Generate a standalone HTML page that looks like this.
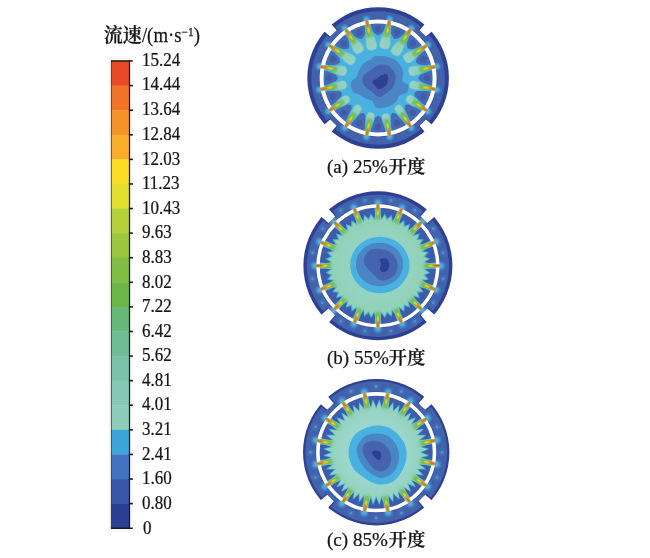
<!DOCTYPE html>
<html lang="zh"><head><meta charset="utf-8"><title>流速</title>
<style>
html,body{margin:0;padding:0;background:#fff;}
body{width:650px;height:558px;overflow:hidden;position:relative;font-family:"Liberation Serif","Noto Serif CJK SC",serif;color:#1a1a1a;}
svg{position:absolute;left:0;top:0;}
</style></head><body>
<svg width="650" height="558" viewBox="0 0 650 558">
<defs>
<filter id="soft" x="-5%" y="-5%" width="110%" height="110%"><feGaussianBlur stdDeviation="0.35"/></filter>
<filter id="b1" x="-20%" y="-20%" width="140%" height="140%"><feGaussianBlur stdDeviation="0.6"/></filter>
<filter id="b15" x="-30%" y="-30%" width="160%" height="160%"><feGaussianBlur stdDeviation="0.85"/></filter>
<filter id="b05" x="-30%" y="-100%" width="160%" height="300%"><feGaussianBlur stdDeviation="0.45"/></filter>
<filter id="b2" x="-30%" y="-30%" width="160%" height="160%"><feGaussianBlur stdDeviation="1.1"/></filter>
<filter id="b3" x="-40%" y="-40%" width="180%" height="180%"><feGaussianBlur stdDeviation="1.8"/></filter>
<linearGradient id="core" x1="0" y1="0" x2="1" y2="0">
<stop offset="0" stop-color="#E8492A"/><stop offset="0.6" stop-color="#EA4F27"/><stop offset="0.85" stop-color="#F28A28"/><stop offset="1" stop-color="#F5C022" stop-opacity="0.5"/>
</linearGradient>
<linearGradient id="yel" x1="0" y1="0" x2="1" y2="0">
<stop offset="0" stop-color="#F2C222"/><stop offset="0.55" stop-color="#F3DC20"/><stop offset="0.8" stop-color="#E4DC25"/><stop offset="1" stop-color="#BFD231" stop-opacity="0.3"/>
</linearGradient>
<linearGradient id="sheath" x1="0" y1="0" x2="1" y2="0">
<stop offset="0" stop-color="#62B24A"/><stop offset="0.5" stop-color="#79BC42"/><stop offset="0.8" stop-color="#74BA58"/><stop offset="1" stop-color="#7CC080" stop-opacity="0.7"/>
</linearGradient>
<linearGradient id="tailA" x1="0" y1="0" x2="1" y2="0">
<stop offset="0" stop-color="#70B84A"/><stop offset="0.2" stop-color="#78BD62"/><stop offset="0.36" stop-color="#84C694"/><stop offset="0.5" stop-color="#90CFB8"/><stop offset="1" stop-color="#96D3C6"/>
</linearGradient>
<linearGradient id="tailB" x1="0" y1="0" x2="1" y2="0">
<stop offset="0" stop-color="#70B84A"/><stop offset="0.35" stop-color="#7CC07A"/><stop offset="0.7" stop-color="#8CCDA8" stop-opacity="0.8"/><stop offset="1" stop-color="#93D2BC" stop-opacity="0"/>
</linearGradient>
<radialGradient id="tealb" gradientUnits="userSpaceOnUse" cx="0" cy="0" r="52">
<stop offset="0" stop-color="#95D4C4"/><stop offset="0.6" stop-color="#94D3C0"/><stop offset="0.85" stop-color="#92D2B8"/><stop offset="1" stop-color="#8FD0AE"/>
</radialGradient>
<radialGradient id="tealc" gradientUnits="userSpaceOnUse" cx="0" cy="0" r="52">
<stop offset="0" stop-color="#9DD7D0"/><stop offset="0.6" stop-color="#9AD6CB"/><stop offset="0.85" stop-color="#95D3C0"/><stop offset="1" stop-color="#90D0B2"/>
</radialGradient>
</defs>

<g transform="translate(0.6,0)">
<rect x="108" y="58" width="24" height="474" fill="#f8f8f6"/>
<rect x="110.6" y="61.00" width="18.4" height="24.89" fill="#E84A27"/>
<rect x="110.6" y="85.59" width="18.4" height="24.89" fill="#F07328"/>
<rect x="110.6" y="110.18" width="18.4" height="24.89" fill="#F5922A"/>
<rect x="110.6" y="134.77" width="18.4" height="24.89" fill="#F8AE2A"/>
<rect x="110.6" y="159.36" width="18.4" height="24.89" fill="#FBDD25"/>
<rect x="110.6" y="183.95" width="18.4" height="24.89" fill="#E2DF30"/>
<rect x="110.6" y="208.54" width="18.4" height="24.89" fill="#B4D03A"/>
<rect x="110.6" y="233.13" width="18.4" height="24.89" fill="#9AC73D"/>
<rect x="110.6" y="257.72" width="18.4" height="24.89" fill="#80BE44"/>
<rect x="110.6" y="282.31" width="18.4" height="24.89" fill="#6BB647"/>
<rect x="110.6" y="306.89" width="18.4" height="24.89" fill="#68B87A"/>
<rect x="110.6" y="331.48" width="18.4" height="24.89" fill="#70BD95"/>
<rect x="110.6" y="356.07" width="18.4" height="24.89" fill="#7AC3A8"/>
<rect x="110.6" y="380.66" width="18.4" height="24.89" fill="#86C9B6"/>
<rect x="110.6" y="405.25" width="18.4" height="24.89" fill="#8CCDBC"/>
<rect x="110.6" y="429.84" width="18.4" height="24.89" fill="#3CA6DC"/>
<rect x="110.6" y="454.43" width="18.4" height="24.89" fill="#4272C0"/>
<rect x="110.6" y="479.02" width="18.4" height="24.89" fill="#3A58AA"/>
<rect x="110.6" y="503.61" width="18.4" height="24.89" fill="#2D3F95"/>
<rect x="110.3" y="61.00" width="0.8" height="467.20" fill="#222" opacity="0.85"/>
<rect x="128.3" y="60.40" width="1.2" height="468.40" fill="#1a1a1a"/>
<rect x="110.3" y="60.20" width="21.9" height="1.5" fill="#1a1a1a"/>
<rect x="110.3" y="527.50" width="21.9" height="1.5" fill="#1a1a1a"/>
<rect x="128.3" y="84.79" width="4.0" height="1.6" fill="#1a1a1a"/>
<rect x="128.3" y="109.38" width="4.0" height="1.6" fill="#1a1a1a"/>
<rect x="128.3" y="133.97" width="4.0" height="1.6" fill="#1a1a1a"/>
<rect x="128.3" y="158.56" width="4.0" height="1.6" fill="#1a1a1a"/>
<rect x="128.3" y="183.15" width="4.0" height="1.6" fill="#1a1a1a"/>
<rect x="128.3" y="207.74" width="4.0" height="1.6" fill="#1a1a1a"/>
<rect x="128.3" y="232.33" width="4.0" height="1.6" fill="#1a1a1a"/>
<rect x="128.3" y="256.92" width="4.0" height="1.6" fill="#1a1a1a"/>
<rect x="128.3" y="281.51" width="4.0" height="1.6" fill="#1a1a1a"/>
<rect x="128.3" y="306.09" width="4.0" height="1.6" fill="#1a1a1a"/>
<rect x="128.3" y="330.68" width="4.0" height="1.6" fill="#1a1a1a"/>
<rect x="128.3" y="355.27" width="4.0" height="1.6" fill="#1a1a1a"/>
<rect x="128.3" y="379.86" width="4.0" height="1.6" fill="#1a1a1a"/>
<rect x="128.3" y="404.45" width="4.0" height="1.6" fill="#1a1a1a"/>
<rect x="128.3" y="429.04" width="4.0" height="1.6" fill="#1a1a1a"/>
<rect x="128.3" y="453.63" width="4.0" height="1.6" fill="#1a1a1a"/>
<rect x="128.3" y="478.22" width="4.0" height="1.6" fill="#1a1a1a"/>
<rect x="128.3" y="502.81" width="4.0" height="1.6" fill="#1a1a1a"/>
</g>
<g transform="translate(378.1,78.0)" filter="url(#soft)">
<clipPath id="clipa"><circle r="54.9"/></clipPath>
<circle r="70.8" fill="#2E3F94"/>
<circle r="66.8" fill="#4262AB"/>
<polygon points="62.74,-5.71 70.21,-6.39 70.21,6.39 62.74,5.71" fill="#2E3F94" transform="rotate(45)"/>
<polygon points="62.74,-5.71 70.21,-6.39 70.21,6.39 62.74,5.71" fill="#2E3F94" transform="rotate(135)"/>
<polygon points="62.74,-5.71 70.21,-6.39 70.21,6.39 62.74,5.71" fill="#2E3F94" transform="rotate(225)"/>
<polygon points="62.74,-5.71 70.21,-6.39 70.21,6.39 62.74,5.71" fill="#2E3F94" transform="rotate(315)"/>
<circle r="56.5" fill="none" stroke="#2E3F94" stroke-width="4.999999999999997" opacity="0.55"/>
<circle cx="59.44" cy="11.82" r="3.4" fill="#4A7EC4" opacity="0.45" filter="url(#b2)"/>
<circle cx="58.55" cy="11.65" r="2.9" fill="#4CB6E6" filter="url(#b15)"/>
<circle cx="50.39" cy="33.67" r="3.4" fill="#4A7EC4" opacity="0.45" filter="url(#b2)"/>
<circle cx="49.64" cy="33.17" r="2.9" fill="#4CB6E6" filter="url(#b15)"/>
<circle cx="33.67" cy="50.39" r="3.4" fill="#4A7EC4" opacity="0.45" filter="url(#b2)"/>
<circle cx="33.17" cy="49.64" r="2.9" fill="#4CB6E6" filter="url(#b15)"/>
<circle cx="11.82" cy="59.44" r="3.4" fill="#4A7EC4" opacity="0.45" filter="url(#b2)"/>
<circle cx="11.65" cy="58.55" r="2.9" fill="#4CB6E6" filter="url(#b15)"/>
<circle cx="-11.82" cy="59.44" r="3.4" fill="#4A7EC4" opacity="0.45" filter="url(#b2)"/>
<circle cx="-11.65" cy="58.55" r="2.9" fill="#4CB6E6" filter="url(#b15)"/>
<circle cx="-33.67" cy="50.39" r="3.4" fill="#4A7EC4" opacity="0.45" filter="url(#b2)"/>
<circle cx="-33.17" cy="49.64" r="2.9" fill="#4CB6E6" filter="url(#b15)"/>
<circle cx="-50.39" cy="33.67" r="3.4" fill="#4A7EC4" opacity="0.45" filter="url(#b2)"/>
<circle cx="-49.64" cy="33.17" r="2.9" fill="#4CB6E6" filter="url(#b15)"/>
<circle cx="-59.44" cy="11.82" r="3.4" fill="#4A7EC4" opacity="0.45" filter="url(#b2)"/>
<circle cx="-58.55" cy="11.65" r="2.9" fill="#4CB6E6" filter="url(#b15)"/>
<circle cx="-59.44" cy="-11.82" r="3.4" fill="#4A7EC4" opacity="0.45" filter="url(#b2)"/>
<circle cx="-58.55" cy="-11.65" r="2.9" fill="#4CB6E6" filter="url(#b15)"/>
<circle cx="-50.39" cy="-33.67" r="3.4" fill="#4A7EC4" opacity="0.45" filter="url(#b2)"/>
<circle cx="-49.64" cy="-33.17" r="2.9" fill="#4CB6E6" filter="url(#b15)"/>
<circle cx="-33.67" cy="-50.39" r="3.4" fill="#4A7EC4" opacity="0.45" filter="url(#b2)"/>
<circle cx="-33.17" cy="-49.64" r="2.9" fill="#4CB6E6" filter="url(#b15)"/>
<circle cx="-11.82" cy="-59.44" r="3.4" fill="#4A7EC4" opacity="0.45" filter="url(#b2)"/>
<circle cx="-11.65" cy="-58.55" r="2.9" fill="#4CB6E6" filter="url(#b15)"/>
<circle cx="11.82" cy="-59.44" r="3.4" fill="#4A7EC4" opacity="0.45" filter="url(#b2)"/>
<circle cx="11.65" cy="-58.55" r="2.9" fill="#4CB6E6" filter="url(#b15)"/>
<circle cx="33.67" cy="-50.39" r="3.4" fill="#4A7EC4" opacity="0.45" filter="url(#b2)"/>
<circle cx="33.17" cy="-49.64" r="2.9" fill="#4CB6E6" filter="url(#b15)"/>
<circle cx="50.39" cy="-33.67" r="3.4" fill="#4A7EC4" opacity="0.45" filter="url(#b2)"/>
<circle cx="49.64" cy="-33.17" r="2.9" fill="#4CB6E6" filter="url(#b15)"/>
<circle cx="59.44" cy="-11.82" r="3.4" fill="#4A7EC4" opacity="0.45" filter="url(#b2)"/>
<circle cx="58.55" cy="-11.65" r="2.9" fill="#4CB6E6" filter="url(#b15)"/>
<polygon points="63.14,-4.53 76.60,-5.49 76.60,5.49 63.14,4.53" fill="#fff" transform="rotate(45)"/>
<polygon points="63.14,-4.53 76.60,-5.49 76.60,5.49 63.14,4.53" fill="#fff" transform="rotate(135)"/>
<polygon points="63.14,-4.53 76.60,-5.49 76.60,5.49 63.14,4.53" fill="#fff" transform="rotate(225)"/>
<polygon points="63.14,-4.53 76.60,-5.49 76.60,5.49 63.14,4.53" fill="#fff" transform="rotate(315)"/>
<circle r="54.6" fill="#3C5DAA"/>
<g clip-path="url(#clipa)">
<circle r="55.1" fill="#48B1E0"/>
<polygon points="54.80,14.17 48.77,28.73 44.12,25.58 40.79,22.33 36.85,18.53 36.07,14.94 39.16,12.95 44.63,13.05 49.29,13.11" fill="#4668B2" filter="url(#b1)"/>
<circle cx="45.27" cy="18.75" r="3.2" fill="#3B55A4" opacity="0.6" filter="url(#b1)"/>
<polygon points="45.20,34.06 34.06,45.20 30.98,40.52 29.14,36.24 26.42,30.61 27.03,27.03 30.61,26.42 36.24,29.14 40.52,30.98" fill="#4668B2" filter="url(#b1)"/>
<circle cx="34.65" cy="34.65" r="3.2" fill="#3B55A4" opacity="0.6" filter="url(#b1)"/>
<polygon points="28.73,48.77 14.17,54.80 13.11,49.29 13.05,44.63 12.53,37.87 14.42,34.82 17.92,35.64 22.33,40.79 25.58,44.12" fill="#4668B2" filter="url(#b1)"/>
<circle cx="18.75" cy="45.27" r="3.2" fill="#3B55A4" opacity="0.6" filter="url(#b1)"/>
<polygon points="7.88,56.05 -7.88,56.05 -6.75,50.55 -5.02,46.23 -2.91,39.59 0.00,37.50 2.91,39.59 5.02,46.23 6.75,50.55" fill="#4668B2" filter="url(#b1)"/>
<circle cx="0.00" cy="49.00" r="3.2" fill="#3B55A4" opacity="0.6" filter="url(#b1)"/>
<polygon points="-14.17,54.80 -28.73,48.77 -25.58,44.12 -22.33,40.79 -17.92,35.64 -14.42,34.82 -12.53,37.87 -13.05,44.63 -13.11,49.29" fill="#4668B2" filter="url(#b1)"/>
<circle cx="-18.75" cy="45.27" r="3.2" fill="#3B55A4" opacity="0.6" filter="url(#b1)"/>
<polygon points="-34.06,45.20 -45.20,34.06 -40.52,30.98 -36.24,29.14 -30.61,26.42 -27.03,27.03 -26.42,30.61 -29.14,36.24 -30.98,40.52" fill="#4668B2" filter="url(#b1)"/>
<circle cx="-34.65" cy="34.65" r="3.2" fill="#3B55A4" opacity="0.6" filter="url(#b1)"/>
<polygon points="-48.77,28.73 -54.80,14.17 -49.29,13.11 -44.63,13.05 -39.16,12.95 -36.07,14.94 -36.85,18.53 -40.79,22.33 -44.12,25.58" fill="#4668B2" filter="url(#b1)"/>
<circle cx="-45.27" cy="18.75" r="3.2" fill="#3B55A4" opacity="0.6" filter="url(#b1)"/>
<polygon points="-56.05,7.88 -56.05,-7.88 -50.55,-6.75 -46.23,-5.02 -42.09,-3.09 -40.00,0.00 -42.09,3.09 -46.23,5.02 -50.55,6.75" fill="#4668B2" filter="url(#b1)"/>
<circle cx="-49.00" cy="0.00" r="3.2" fill="#3B55A4" opacity="0.6" filter="url(#b1)"/>
<polygon points="-54.80,-14.17 -48.77,-28.73 -44.12,-25.58 -40.79,-22.33 -38.55,-19.39 -37.84,-15.67 -40.97,-13.55 -44.63,-13.05 -49.29,-13.11" fill="#4668B2" filter="url(#b1)"/>
<circle cx="-45.27" cy="-18.75" r="3.2" fill="#3B55A4" opacity="0.6" filter="url(#b1)"/>
<polygon points="-45.20,-34.06 -34.06,-45.20 -30.98,-40.52 -29.14,-36.24 -28.73,-33.28 -29.53,-29.53 -33.28,-28.73 -36.24,-29.14 -40.52,-30.98" fill="#4668B2" filter="url(#b1)"/>
<circle cx="-34.65" cy="-34.65" r="3.2" fill="#3B55A4" opacity="0.6" filter="url(#b1)"/>
<polygon points="-28.73,-48.77 -14.17,-54.80 -13.11,-49.29 -13.05,-44.63 -13.98,-42.26 -16.19,-39.09 -20.00,-39.76 -22.33,-40.79 -25.58,-44.12" fill="#4668B2" filter="url(#b1)"/>
<circle cx="-18.75" cy="-45.27" r="3.2" fill="#3B55A4" opacity="0.6" filter="url(#b1)"/>
<polygon points="-7.88,-56.05 7.88,-56.05 6.75,-50.55 5.02,-46.23 3.27,-44.58 -0.00,-42.50 -3.27,-44.58 -5.02,-46.23 -6.75,-50.55" fill="#4668B2" filter="url(#b1)"/>
<circle cx="-0.00" cy="-49.00" r="3.2" fill="#3B55A4" opacity="0.6" filter="url(#b1)"/>
<polygon points="14.17,-54.80 28.73,-48.77 25.58,-44.12 22.33,-40.79 20.00,-39.76 16.19,-39.09 13.98,-42.26 13.05,-44.63 13.11,-49.29" fill="#4668B2" filter="url(#b1)"/>
<circle cx="18.75" cy="-45.27" r="3.2" fill="#3B55A4" opacity="0.6" filter="url(#b1)"/>
<polygon points="34.06,-45.20 45.20,-34.06 40.52,-30.98 36.24,-29.14 33.28,-28.73 29.53,-29.53 28.73,-33.28 29.14,-36.24 30.98,-40.52" fill="#4668B2" filter="url(#b1)"/>
<circle cx="34.65" cy="-34.65" r="3.2" fill="#3B55A4" opacity="0.6" filter="url(#b1)"/>
<polygon points="48.77,-28.73 54.80,-14.17 49.29,-13.11 44.63,-13.05 40.97,-13.55 37.84,-15.67 38.55,-19.39 40.79,-22.33 44.12,-25.58" fill="#4668B2" filter="url(#b1)"/>
<circle cx="45.27" cy="-18.75" r="3.2" fill="#3B55A4" opacity="0.6" filter="url(#b1)"/>
<polygon points="56.05,-7.88 56.05,7.88 50.55,6.75 46.23,5.02 42.09,3.09 40.00,-0.00 42.09,-3.09 46.23,-5.02 50.55,-6.75" fill="#4668B2" filter="url(#b1)"/>
<circle cx="49.00" cy="-0.00" r="3.2" fill="#3B55A4" opacity="0.6" filter="url(#b1)"/>
<path d="M0.76,-22.08C2.91,-22.08 6.02,-21.96 8.65,-21.36C11.27,-20.76 14.14,-20.17 16.53,-18.49C18.92,-16.82 21.55,-13.72 22.98,-11.33C24.42,-8.94 24.89,-6.55 25.13,-4.16C25.37,-1.77 23.58,1.10 24.42,3.01C25.25,4.92 29.43,5.40 30.15,7.31C30.87,9.22 30.15,12.81 28.72,14.48C27.28,16.15 23.22,15.91 21.55,17.35C19.88,18.78 20.11,21.41 18.68,23.08C17.25,24.76 15.57,26.19 12.95,27.38C10.32,28.58 5.54,30.01 2.91,30.25C0.28,30.49 -1.39,30.01 -2.82,28.82C-4.26,27.62 -4.26,24.40 -5.69,23.08C-7.13,21.77 -9.28,22.01 -11.43,20.93C-13.58,19.86 -16.44,17.71 -18.59,16.63C-20.75,15.56 -22.90,15.79 -24.33,14.48C-25.76,13.17 -26.84,10.66 -27.20,8.75C-27.56,6.83 -27.44,4.68 -26.48,3.01C-25.52,1.34 -22.78,0.62 -21.46,-1.29C-20.15,-3.20 -19.79,-6.19 -18.59,-8.46C-17.40,-10.73 -16.21,-13.24 -14.29,-14.91C-12.38,-16.58 -8.80,-17.42 -7.13,-18.49C-5.45,-19.57 -5.57,-20.76 -4.26,-21.36C-2.94,-21.96 -1.39,-22.08 0.76,-22.08Z" fill="#4C85C6" filter="url(#b1)"/>
<path d="M2.91,-13.48C5.06,-13.60 7.81,-13.36 10.08,-12.04C12.35,-10.73 15.34,-7.86 16.53,-5.59C17.73,-3.32 17.49,-0.81 17.25,1.58C17.01,3.97 16.29,6.71 15.10,8.75C13.90,10.78 12.11,12.09 10.08,13.76C8.05,15.44 4.82,18.06 2.91,18.78C1.00,19.50 0.28,19.02 -1.39,18.06C-3.06,17.11 -5.21,14.60 -7.13,13.05C-9.04,11.49 -11.43,10.42 -12.86,8.75C-14.29,7.07 -15.49,4.92 -15.73,3.01C-15.97,1.10 -15.49,-1.05 -14.29,-2.72C-13.10,-4.40 -10.47,-5.59 -8.56,-7.03C-6.65,-8.46 -4.74,-10.25 -2.82,-11.33C-0.91,-12.40 0.76,-13.36 2.91,-13.48Z" fill="#4464AE" filter="url(#b1)"/>
<path d="M7.93,-4.16C9.12,-3.73 9.96,-1.53 10.08,0.14C10.20,1.82 9.60,4.21 8.65,5.88C7.69,7.55 5.78,9.34 4.34,10.18C2.91,11.02 1.36,11.37 0.04,10.90C-1.27,10.42 -2.59,8.51 -3.54,7.31C-4.50,6.12 -6.05,4.80 -5.69,3.73C-5.33,2.65 -2.82,1.89 -1.39,0.86C0.04,-0.17 1.36,-1.60 2.91,-2.44C4.46,-3.27 6.73,-4.59 7.93,-4.16Z" fill="#2E3F94" filter="url(#b1)"/>
</g>
<circle r="56.5" fill="none" stroke="#fff" stroke-width="3.9999999999999973"/>
<g transform="rotate(11.25) translate(59.20,0) scale(-1,1)">
<path d="M8,-2 L14,-2.9 L19,-4.3 L24,-5.2 L28,-5.2 Q31.5,-4.4 31.5,0 Q31.5,4.4 28,5.2 L24,5.2 L19,4.3 L14,2.9 L8,2Z" fill="url(#tailA)" filter="url(#b1)" transform="scale(0.860,0.841)"/>
<polygon points="0.4,-1.5 6,-1.9 12,-2.3 18,-2.7 18,2.7 12,2.3 6,1.9 0.4,1.5" fill="url(#sheath)" filter="url(#b1)"/>
<polygon points="0.8,-0.95 7,-1.05 14,-0.85 14,0.85 7,1.05 0.8,0.95" fill="url(#yel)" filter="url(#b1)"/>
<polygon points="0.6,-0.7 5,-0.75 10,-0.55 10,0.55 5,0.75 0.6,0.7" fill="url(#core)" filter="url(#b05)"/>
</g>
<g transform="rotate(33.75) translate(59.20,0) scale(-1,1)">
<path d="M8,-2 L14,-2.9 L19,-4.3 L24,-5.2 L28,-5.2 Q31.5,-4.4 31.5,0 Q31.5,4.4 28,5.2 L24,5.2 L19,4.3 L14,2.9 L8,2Z" fill="url(#tailA)" filter="url(#b1)" transform="scale(0.783,0.787)"/>
<polygon points="0.4,-1.5 6,-1.9 12,-2.3 18,-2.7 18,2.7 12,2.3 6,1.9 0.4,1.5" fill="url(#sheath)" filter="url(#b1)"/>
<polygon points="0.8,-0.95 7,-1.05 14,-0.85 14,0.85 7,1.05 0.8,0.95" fill="url(#yel)" filter="url(#b1)"/>
<polygon points="0.6,-0.7 5,-0.75 10,-0.55 10,0.55 5,0.75 0.6,0.7" fill="url(#core)" filter="url(#b05)"/>
</g>
<g transform="rotate(56.25) translate(59.20,0) scale(-1,1)">
<path d="M8,-2 L14,-2.9 L19,-4.3 L24,-5.2 L28,-5.2 Q31.5,-4.4 31.5,0 Q31.5,4.4 28,5.2 L24,5.2 L19,4.3 L14,2.9 L8,2Z" fill="url(#tailA)" filter="url(#b1)" transform="scale(0.829,0.745)"/>
<polygon points="0.4,-1.5 6,-1.9 12,-2.3 18,-2.7 18,2.7 12,2.3 6,1.9 0.4,1.5" fill="url(#sheath)" filter="url(#b1)"/>
<polygon points="0.8,-0.95 7,-1.05 14,-0.85 14,0.85 7,1.05 0.8,0.95" fill="url(#yel)" filter="url(#b1)"/>
<polygon points="0.6,-0.7 5,-0.75 10,-0.55 10,0.55 5,0.75 0.6,0.7" fill="url(#core)" filter="url(#b05)"/>
</g>
<g transform="rotate(78.75) translate(59.20,0) scale(-1,1)">
<path d="M8,-2 L14,-2.9 L19,-4.3 L24,-5.2 L28,-5.2 Q31.5,-4.4 31.5,0 Q31.5,4.4 28,5.2 L24,5.2 L19,4.3 L14,2.9 L8,2Z" fill="url(#tailA)" filter="url(#b1)" transform="scale(0.727,0.723)"/>
<polygon points="0.4,-1.5 6,-1.9 12,-2.3 18,-2.7 18,2.7 12,2.3 6,1.9 0.4,1.5" fill="url(#sheath)" filter="url(#b1)"/>
<polygon points="0.8,-0.95 7,-1.05 14,-0.85 14,0.85 7,1.05 0.8,0.95" fill="url(#yel)" filter="url(#b1)"/>
<polygon points="0.6,-0.7 5,-0.75 10,-0.55 10,0.55 5,0.75 0.6,0.7" fill="url(#core)" filter="url(#b05)"/>
</g>
<g transform="rotate(101.25) translate(59.20,0) scale(-1,1)">
<path d="M8,-2 L14,-2.9 L19,-4.3 L24,-5.2 L28,-5.2 Q31.5,-4.4 31.5,0 Q31.5,4.4 28,5.2 L24,5.2 L19,4.3 L14,2.9 L8,2Z" fill="url(#tailA)" filter="url(#b1)" transform="scale(0.766,0.723)"/>
<polygon points="0.4,-1.5 6,-1.9 12,-2.3 18,-2.7 18,2.7 12,2.3 6,1.9 0.4,1.5" fill="url(#sheath)" filter="url(#b1)"/>
<polygon points="0.8,-0.95 7,-1.05 14,-0.85 14,0.85 7,1.05 0.8,0.95" fill="url(#yel)" filter="url(#b1)"/>
<polygon points="0.6,-0.7 5,-0.75 10,-0.55 10,0.55 5,0.75 0.6,0.7" fill="url(#core)" filter="url(#b05)"/>
</g>
<g transform="rotate(123.75) translate(59.20,0) scale(-1,1)">
<path d="M8,-2 L14,-2.9 L19,-4.3 L24,-5.2 L28,-5.2 Q31.5,-4.4 31.5,0 Q31.5,4.4 28,5.2 L24,5.2 L19,4.3 L14,2.9 L8,2Z" fill="url(#tailA)" filter="url(#b1)" transform="scale(0.829,0.745)"/>
<polygon points="0.4,-1.5 6,-1.9 12,-2.3 18,-2.7 18,2.7 12,2.3 6,1.9 0.4,1.5" fill="url(#sheath)" filter="url(#b1)"/>
<polygon points="0.8,-0.95 7,-1.05 14,-0.85 14,0.85 7,1.05 0.8,0.95" fill="url(#yel)" filter="url(#b1)"/>
<polygon points="0.6,-0.7 5,-0.75 10,-0.55 10,0.55 5,0.75 0.6,0.7" fill="url(#core)" filter="url(#b05)"/>
</g>
<g transform="rotate(146.25) translate(59.20,0) scale(-1,1)">
<path d="M8,-2 L14,-2.9 L19,-4.3 L24,-5.2 L28,-5.2 Q31.5,-4.4 31.5,0 Q31.5,4.4 28,5.2 L24,5.2 L19,4.3 L14,2.9 L8,2Z" fill="url(#tailA)" filter="url(#b1)" transform="scale(0.775,0.787)"/>
<polygon points="0.4,-1.5 6,-1.9 12,-2.3 18,-2.7 18,2.7 12,2.3 6,1.9 0.4,1.5" fill="url(#sheath)" filter="url(#b1)"/>
<polygon points="0.8,-0.95 7,-1.05 14,-0.85 14,0.85 7,1.05 0.8,0.95" fill="url(#yel)" filter="url(#b1)"/>
<polygon points="0.6,-0.7 5,-0.75 10,-0.55 10,0.55 5,0.75 0.6,0.7" fill="url(#core)" filter="url(#b05)"/>
</g>
<g transform="rotate(168.75) translate(59.20,0) scale(-1,1)">
<path d="M8,-2 L14,-2.9 L19,-4.3 L24,-5.2 L28,-5.2 Q31.5,-4.4 31.5,0 Q31.5,4.4 28,5.2 L24,5.2 L19,4.3 L14,2.9 L8,2Z" fill="url(#tailA)" filter="url(#b1)" transform="scale(0.860,0.841)"/>
<polygon points="0.4,-1.5 6,-1.9 12,-2.3 18,-2.7 18,2.7 12,2.3 6,1.9 0.4,1.5" fill="url(#sheath)" filter="url(#b1)"/>
<polygon points="0.8,-0.95 7,-1.05 14,-0.85 14,0.85 7,1.05 0.8,0.95" fill="url(#yel)" filter="url(#b1)"/>
<polygon points="0.6,-0.7 5,-0.75 10,-0.55 10,0.55 5,0.75 0.6,0.7" fill="url(#core)" filter="url(#b05)"/>
</g>
<g transform="rotate(191.25) translate(59.20,0) scale(-1,1)">
<path d="M8,-2 L14,-2.9 L19,-4.3 L24,-5.2 L28,-5.2 Q31.5,-4.4 31.5,0 Q31.5,4.4 28,5.2 L24,5.2 L19,4.3 L14,2.9 L8,2Z" fill="url(#tailA)" filter="url(#b1)" transform="scale(0.864,0.899)"/>
<polygon points="0.4,-1.5 6,-1.9 12,-2.3 18,-2.7 18,2.7 12,2.3 6,1.9 0.4,1.5" fill="url(#sheath)" filter="url(#b1)"/>
<polygon points="0.8,-0.95 7,-1.05 14,-0.85 14,0.85 7,1.05 0.8,0.95" fill="url(#yel)" filter="url(#b1)"/>
<polygon points="0.6,-0.7 5,-0.75 10,-0.55 10,0.55 5,0.75 0.6,0.7" fill="url(#core)" filter="url(#b05)"/>
</g>
<g transform="rotate(213.75) translate(59.20,0) scale(-1,1)">
<path d="M8,-2 L14,-2.9 L19,-4.3 L24,-5.2 L28,-5.2 Q31.5,-4.4 31.5,0 Q31.5,4.4 28,5.2 L24,5.2 L19,4.3 L14,2.9 L8,2Z" fill="url(#tailA)" filter="url(#b1)" transform="scale(0.982,0.953)"/>
<polygon points="0.4,-1.5 6,-1.9 12,-2.3 18,-2.7 18,2.7 12,2.3 6,1.9 0.4,1.5" fill="url(#sheath)" filter="url(#b1)"/>
<polygon points="0.8,-0.95 7,-1.05 14,-0.85 14,0.85 7,1.05 0.8,0.95" fill="url(#yel)" filter="url(#b1)"/>
<polygon points="0.6,-0.7 5,-0.75 10,-0.55 10,0.55 5,0.75 0.6,0.7" fill="url(#core)" filter="url(#b05)"/>
</g>
<g transform="rotate(236.25) translate(59.20,0) scale(-1,1)">
<path d="M8,-2 L14,-2.9 L19,-4.3 L24,-5.2 L28,-5.2 Q31.5,-4.4 31.5,0 Q31.5,4.4 28,5.2 L24,5.2 L19,4.3 L14,2.9 L8,2Z" fill="url(#tailA)" filter="url(#b1)" transform="scale(0.905,0.995)"/>
<polygon points="0.4,-1.5 6,-1.9 12,-2.3 18,-2.7 18,2.7 12,2.3 6,1.9 0.4,1.5" fill="url(#sheath)" filter="url(#b1)"/>
<polygon points="0.8,-0.95 7,-1.05 14,-0.85 14,0.85 7,1.05 0.8,0.95" fill="url(#yel)" filter="url(#b1)"/>
<polygon points="0.6,-0.7 5,-0.75 10,-0.55 10,0.55 5,0.75 0.6,0.7" fill="url(#core)" filter="url(#b05)"/>
</g>
<g transform="rotate(258.75) translate(59.20,0) scale(-1,1)">
<path d="M8,-2 L14,-2.9 L19,-4.3 L24,-5.2 L28,-5.2 Q31.5,-4.4 31.5,0 Q31.5,4.4 28,5.2 L24,5.2 L19,4.3 L14,2.9 L8,2Z" fill="url(#tailA)" filter="url(#b1)" transform="scale(0.978,1.017)"/>
<polygon points="0.4,-1.5 6,-1.9 12,-2.3 18,-2.7 18,2.7 12,2.3 6,1.9 0.4,1.5" fill="url(#sheath)" filter="url(#b1)"/>
<polygon points="0.8,-0.95 7,-1.05 14,-0.85 14,0.85 7,1.05 0.8,0.95" fill="url(#yel)" filter="url(#b1)"/>
<polygon points="0.6,-0.7 5,-0.75 10,-0.55 10,0.55 5,0.75 0.6,0.7" fill="url(#core)" filter="url(#b05)"/>
</g>
<g transform="rotate(281.25) translate(59.20,0) scale(-1,1)">
<path d="M8,-2 L14,-2.9 L19,-4.3 L24,-5.2 L28,-5.2 Q31.5,-4.4 31.5,0 Q31.5,4.4 28,5.2 L24,5.2 L19,4.3 L14,2.9 L8,2Z" fill="url(#tailA)" filter="url(#b1)" transform="scale(0.939,1.017)"/>
<polygon points="0.4,-1.5 6,-1.9 12,-2.3 18,-2.7 18,2.7 12,2.3 6,1.9 0.4,1.5" fill="url(#sheath)" filter="url(#b1)"/>
<polygon points="0.8,-0.95 7,-1.05 14,-0.85 14,0.85 7,1.05 0.8,0.95" fill="url(#yel)" filter="url(#b1)"/>
<polygon points="0.6,-0.7 5,-0.75 10,-0.55 10,0.55 5,0.75 0.6,0.7" fill="url(#core)" filter="url(#b05)"/>
</g>
<g transform="rotate(303.75) translate(59.20,0) scale(-1,1)">
<path d="M8,-2 L14,-2.9 L19,-4.3 L24,-5.2 L28,-5.2 Q31.5,-4.4 31.5,0 Q31.5,4.4 28,5.2 L24,5.2 L19,4.3 L14,2.9 L8,2Z" fill="url(#tailA)" filter="url(#b1)" transform="scale(0.992,0.995)"/>
<polygon points="0.4,-1.5 6,-1.9 12,-2.3 18,-2.7 18,2.7 12,2.3 6,1.9 0.4,1.5" fill="url(#sheath)" filter="url(#b1)"/>
<polygon points="0.8,-0.95 7,-1.05 14,-0.85 14,0.85 7,1.05 0.8,0.95" fill="url(#yel)" filter="url(#b1)"/>
<polygon points="0.6,-0.7 5,-0.75 10,-0.55 10,0.55 5,0.75 0.6,0.7" fill="url(#core)" filter="url(#b05)"/>
</g>
<g transform="rotate(326.25) translate(59.20,0) scale(-1,1)">
<path d="M8,-2 L14,-2.9 L19,-4.3 L24,-5.2 L28,-5.2 Q31.5,-4.4 31.5,0 Q31.5,4.4 28,5.2 L24,5.2 L19,4.3 L14,2.9 L8,2Z" fill="url(#tailA)" filter="url(#b1)" transform="scale(0.870,0.953)"/>
<polygon points="0.4,-1.5 6,-1.9 12,-2.3 18,-2.7 18,2.7 12,2.3 6,1.9 0.4,1.5" fill="url(#sheath)" filter="url(#b1)"/>
<polygon points="0.8,-0.95 7,-1.05 14,-0.85 14,0.85 7,1.05 0.8,0.95" fill="url(#yel)" filter="url(#b1)"/>
<polygon points="0.6,-0.7 5,-0.75 10,-0.55 10,0.55 5,0.75 0.6,0.7" fill="url(#core)" filter="url(#b05)"/>
</g>
<g transform="rotate(348.75) translate(59.20,0) scale(-1,1)">
<path d="M8,-2 L14,-2.9 L19,-4.3 L24,-5.2 L28,-5.2 Q31.5,-4.4 31.5,0 Q31.5,4.4 28,5.2 L24,5.2 L19,4.3 L14,2.9 L8,2Z" fill="url(#tailA)" filter="url(#b1)" transform="scale(0.891,0.899)"/>
<polygon points="0.4,-1.5 6,-1.9 12,-2.3 18,-2.7 18,2.7 12,2.3 6,1.9 0.4,1.5" fill="url(#sheath)" filter="url(#b1)"/>
<polygon points="0.8,-0.95 7,-1.05 14,-0.85 14,0.85 7,1.05 0.8,0.95" fill="url(#yel)" filter="url(#b1)"/>
<polygon points="0.6,-0.7 5,-0.75 10,-0.55 10,0.55 5,0.75 0.6,0.7" fill="url(#core)" filter="url(#b05)"/>
</g>
</g>
<g transform="translate(377.9,265.8)" filter="url(#soft)">
<clipPath id="clipb"><circle r="58.5"/></clipPath>
<circle r="74.5" fill="#2E3F94"/>
<circle r="71.1" fill="#4262AB"/>
<polygon points="64.83,-5.90 73.89,-6.72 73.89,6.72 64.83,5.90" fill="#2E3F94" transform="rotate(45)"/>
<polygon points="64.83,-5.90 73.89,-6.72 73.89,6.72 64.83,5.90" fill="#2E3F94" transform="rotate(135)"/>
<polygon points="64.83,-5.90 73.89,-6.72 73.89,6.72 64.83,5.90" fill="#2E3F94" transform="rotate(225)"/>
<polygon points="64.83,-5.90 73.89,-6.72 73.89,6.72 64.83,5.90" fill="#2E3F94" transform="rotate(315)"/>
<circle r="59.85" fill="none" stroke="#2E3F94" stroke-width="4.499999999999997" opacity="0.55"/>
<circle cx="63.70" cy="0.00" r="4.2" fill="#4A7EC4" opacity="0.7" filter="url(#b2)"/>
<circle cx="62.80" cy="0.00" r="2.9" fill="#4CB6E6" filter="url(#b15)"/>
<circle cx="65.32" cy="12.99" r="3.2" fill="#4A7EC4" opacity="0.55" filter="url(#b2)"/>
<circle cx="65.32" cy="12.99" r="1.3" fill="#4A9AD6" opacity="0.9" filter="url(#b1)"/>
<circle cx="58.85" cy="24.38" r="4.2" fill="#4A7EC4" opacity="0.7" filter="url(#b2)"/>
<circle cx="58.02" cy="24.03" r="2.9" fill="#4CB6E6" filter="url(#b15)"/>
<circle cx="55.38" cy="37.00" r="3.2" fill="#4A7EC4" opacity="0.55" filter="url(#b2)"/>
<circle cx="55.38" cy="37.00" r="1.3" fill="#4A9AD6" opacity="0.9" filter="url(#b1)"/>
<circle cx="45.04" cy="45.04" r="4.2" fill="#4A7EC4" opacity="0.7" filter="url(#b2)"/>
<circle cx="44.41" cy="44.41" r="2.9" fill="#4CB6E6" filter="url(#b15)"/>
<circle cx="37.00" cy="55.38" r="3.2" fill="#4A7EC4" opacity="0.55" filter="url(#b2)"/>
<circle cx="37.00" cy="55.38" r="1.3" fill="#4A9AD6" opacity="0.9" filter="url(#b1)"/>
<circle cx="24.38" cy="58.85" r="4.2" fill="#4A7EC4" opacity="0.7" filter="url(#b2)"/>
<circle cx="24.03" cy="58.02" r="2.9" fill="#4CB6E6" filter="url(#b15)"/>
<circle cx="12.99" cy="65.32" r="3.2" fill="#4A7EC4" opacity="0.55" filter="url(#b2)"/>
<circle cx="12.99" cy="65.32" r="1.3" fill="#4A9AD6" opacity="0.9" filter="url(#b1)"/>
<circle cx="0.00" cy="63.70" r="4.2" fill="#4A7EC4" opacity="0.7" filter="url(#b2)"/>
<circle cx="0.00" cy="62.80" r="2.9" fill="#4CB6E6" filter="url(#b15)"/>
<circle cx="-12.99" cy="65.32" r="3.2" fill="#4A7EC4" opacity="0.55" filter="url(#b2)"/>
<circle cx="-12.99" cy="65.32" r="1.3" fill="#4A9AD6" opacity="0.9" filter="url(#b1)"/>
<circle cx="-24.38" cy="58.85" r="4.2" fill="#4A7EC4" opacity="0.7" filter="url(#b2)"/>
<circle cx="-24.03" cy="58.02" r="2.9" fill="#4CB6E6" filter="url(#b15)"/>
<circle cx="-37.00" cy="55.38" r="3.2" fill="#4A7EC4" opacity="0.55" filter="url(#b2)"/>
<circle cx="-37.00" cy="55.38" r="1.3" fill="#4A9AD6" opacity="0.9" filter="url(#b1)"/>
<circle cx="-45.04" cy="45.04" r="4.2" fill="#4A7EC4" opacity="0.7" filter="url(#b2)"/>
<circle cx="-44.41" cy="44.41" r="2.9" fill="#4CB6E6" filter="url(#b15)"/>
<circle cx="-55.38" cy="37.00" r="3.2" fill="#4A7EC4" opacity="0.55" filter="url(#b2)"/>
<circle cx="-55.38" cy="37.00" r="1.3" fill="#4A9AD6" opacity="0.9" filter="url(#b1)"/>
<circle cx="-58.85" cy="24.38" r="4.2" fill="#4A7EC4" opacity="0.7" filter="url(#b2)"/>
<circle cx="-58.02" cy="24.03" r="2.9" fill="#4CB6E6" filter="url(#b15)"/>
<circle cx="-65.32" cy="12.99" r="3.2" fill="#4A7EC4" opacity="0.55" filter="url(#b2)"/>
<circle cx="-65.32" cy="12.99" r="1.3" fill="#4A9AD6" opacity="0.9" filter="url(#b1)"/>
<circle cx="-63.70" cy="0.00" r="4.2" fill="#4A7EC4" opacity="0.7" filter="url(#b2)"/>
<circle cx="-62.80" cy="0.00" r="2.9" fill="#4CB6E6" filter="url(#b15)"/>
<circle cx="-65.32" cy="-12.99" r="3.2" fill="#4A7EC4" opacity="0.55" filter="url(#b2)"/>
<circle cx="-65.32" cy="-12.99" r="1.3" fill="#4A9AD6" opacity="0.9" filter="url(#b1)"/>
<circle cx="-58.85" cy="-24.38" r="4.2" fill="#4A7EC4" opacity="0.7" filter="url(#b2)"/>
<circle cx="-58.02" cy="-24.03" r="2.9" fill="#4CB6E6" filter="url(#b15)"/>
<circle cx="-55.38" cy="-37.00" r="3.2" fill="#4A7EC4" opacity="0.55" filter="url(#b2)"/>
<circle cx="-55.38" cy="-37.00" r="1.3" fill="#4A9AD6" opacity="0.9" filter="url(#b1)"/>
<circle cx="-45.04" cy="-45.04" r="4.2" fill="#4A7EC4" opacity="0.7" filter="url(#b2)"/>
<circle cx="-44.41" cy="-44.41" r="2.9" fill="#4CB6E6" filter="url(#b15)"/>
<circle cx="-37.00" cy="-55.38" r="3.2" fill="#4A7EC4" opacity="0.55" filter="url(#b2)"/>
<circle cx="-37.00" cy="-55.38" r="1.3" fill="#4A9AD6" opacity="0.9" filter="url(#b1)"/>
<circle cx="-24.38" cy="-58.85" r="4.2" fill="#4A7EC4" opacity="0.7" filter="url(#b2)"/>
<circle cx="-24.03" cy="-58.02" r="2.9" fill="#4CB6E6" filter="url(#b15)"/>
<circle cx="-12.99" cy="-65.32" r="3.2" fill="#4A7EC4" opacity="0.55" filter="url(#b2)"/>
<circle cx="-12.99" cy="-65.32" r="1.3" fill="#4A9AD6" opacity="0.9" filter="url(#b1)"/>
<circle cx="-0.00" cy="-63.70" r="4.2" fill="#4A7EC4" opacity="0.7" filter="url(#b2)"/>
<circle cx="-0.00" cy="-62.80" r="2.9" fill="#4CB6E6" filter="url(#b15)"/>
<circle cx="12.99" cy="-65.32" r="3.2" fill="#4A7EC4" opacity="0.55" filter="url(#b2)"/>
<circle cx="12.99" cy="-65.32" r="1.3" fill="#4A9AD6" opacity="0.9" filter="url(#b1)"/>
<circle cx="24.38" cy="-58.85" r="4.2" fill="#4A7EC4" opacity="0.7" filter="url(#b2)"/>
<circle cx="24.03" cy="-58.02" r="2.9" fill="#4CB6E6" filter="url(#b15)"/>
<circle cx="37.00" cy="-55.38" r="3.2" fill="#4A7EC4" opacity="0.55" filter="url(#b2)"/>
<circle cx="37.00" cy="-55.38" r="1.3" fill="#4A9AD6" opacity="0.9" filter="url(#b1)"/>
<circle cx="45.04" cy="-45.04" r="4.2" fill="#4A7EC4" opacity="0.7" filter="url(#b2)"/>
<circle cx="44.41" cy="-44.41" r="2.9" fill="#4CB6E6" filter="url(#b15)"/>
<circle cx="55.38" cy="-37.00" r="3.2" fill="#4A7EC4" opacity="0.55" filter="url(#b2)"/>
<circle cx="55.38" cy="-37.00" r="1.3" fill="#4A9AD6" opacity="0.9" filter="url(#b1)"/>
<circle cx="58.85" cy="-24.38" r="4.2" fill="#4A7EC4" opacity="0.7" filter="url(#b2)"/>
<circle cx="58.02" cy="-24.03" r="2.9" fill="#4CB6E6" filter="url(#b15)"/>
<circle cx="65.32" cy="-12.99" r="3.2" fill="#4A7EC4" opacity="0.55" filter="url(#b2)"/>
<circle cx="65.32" cy="-12.99" r="1.3" fill="#4A9AD6" opacity="0.9" filter="url(#b1)"/>
<polygon points="65.23,-4.68 80.29,-5.76 80.29,5.76 65.23,4.68" fill="#fff" transform="rotate(45)"/>
<polygon points="65.23,-4.68 80.29,-5.76 80.29,5.76 65.23,4.68" fill="#fff" transform="rotate(135)"/>
<polygon points="65.23,-4.68 80.29,-5.76 80.29,5.76 65.23,4.68" fill="#fff" transform="rotate(225)"/>
<polygon points="65.23,-4.68 80.29,-5.76 80.29,5.76 65.23,4.68" fill="#fff" transform="rotate(315)"/>
<circle r="58.2" fill="#3C5DAA"/>
<g clip-path="url(#clipb)">
<polygon points="61.10,-3.52 61.10,3.52 50.92,2.85 47.35,3.81 51.42,6.22 52.24,6.97 51.26,7.48 47.37,9.42 50.22,12.71 50.93,13.55 49.89,13.93 45.20,14.60 48.13,16.86 57.80,20.13 55.10,26.64 45.95,22.12 42.29,21.64 45.13,25.43 45.59,26.43 44.49,26.52 40.16,26.83 41.53,30.96 41.87,32.01 40.76,31.96 36.17,30.79 38.02,33.99 45.69,40.71 40.71,45.69 33.99,38.02 30.79,36.17 31.96,40.76 32.01,41.87 30.96,41.53 26.83,40.16 26.52,44.49 26.43,45.59 25.43,45.13 21.64,42.29 22.12,45.95 26.64,55.10 20.13,57.80 16.86,48.13 14.60,45.20 13.93,49.89 13.55,50.93 12.71,50.22 9.42,47.37 7.48,51.26 6.97,52.24 6.22,51.42 3.81,47.35 2.85,50.92 3.52,61.10 -3.52,61.10 -2.85,50.92 -3.81,47.35 -6.22,51.42 -6.97,52.24 -7.48,51.26 -9.42,47.37 -12.71,50.22 -13.55,50.93 -13.93,49.89 -14.60,45.20 -16.86,48.13 -20.13,57.80 -26.64,55.10 -22.12,45.95 -21.64,42.29 -25.43,45.13 -26.43,45.59 -26.52,44.49 -26.83,40.16 -30.96,41.53 -32.01,41.87 -31.96,40.76 -30.79,36.17 -33.99,38.02 -40.71,45.69 -45.69,40.71 -38.02,33.99 -36.17,30.79 -40.76,31.96 -41.87,32.01 -41.53,30.96 -40.16,26.83 -44.49,26.52 -45.59,26.43 -45.13,25.43 -42.29,21.64 -45.95,22.12 -55.10,26.64 -57.80,20.13 -48.13,16.86 -45.20,14.60 -49.89,13.93 -50.93,13.55 -50.22,12.71 -47.37,9.42 -51.26,7.48 -52.24,6.97 -51.42,6.22 -47.35,3.81 -50.92,2.85 -61.10,3.52 -61.10,-3.52 -50.92,-2.85 -47.35,-3.81 -51.42,-6.22 -52.24,-6.97 -51.26,-7.48 -47.37,-9.42 -50.22,-12.71 -50.93,-13.55 -49.89,-13.93 -45.20,-14.60 -48.13,-16.86 -57.80,-20.13 -55.10,-26.64 -45.95,-22.12 -42.29,-21.64 -45.13,-25.43 -45.59,-26.43 -44.49,-26.52 -40.16,-26.83 -41.53,-30.96 -41.87,-32.01 -40.76,-31.96 -36.17,-30.79 -38.02,-33.99 -45.69,-40.71 -40.71,-45.69 -33.99,-38.02 -30.79,-36.17 -31.96,-40.76 -32.01,-41.87 -30.96,-41.53 -26.83,-40.16 -26.52,-44.49 -26.43,-45.59 -25.43,-45.13 -21.64,-42.29 -22.12,-45.95 -26.64,-55.10 -20.13,-57.80 -16.86,-48.13 -14.60,-45.20 -13.93,-49.89 -13.55,-50.93 -12.71,-50.22 -9.42,-47.37 -7.48,-51.26 -6.97,-52.24 -6.22,-51.42 -3.81,-47.35 -2.85,-50.92 -3.52,-61.10 3.52,-61.10 2.85,-50.92 3.81,-47.35 6.22,-51.42 6.97,-52.24 7.48,-51.26 9.42,-47.37 12.71,-50.22 13.55,-50.93 13.93,-49.89 14.60,-45.20 16.86,-48.13 20.13,-57.80 26.64,-55.10 22.12,-45.95 21.64,-42.29 25.43,-45.13 26.43,-45.59 26.52,-44.49 26.83,-40.16 30.96,-41.53 32.01,-41.87 31.96,-40.76 30.79,-36.17 33.99,-38.02 40.71,-45.69 45.69,-40.71 38.02,-33.99 36.17,-30.79 40.76,-31.96 41.87,-32.01 41.53,-30.96 40.16,-26.83 44.49,-26.52 45.59,-26.43 45.13,-25.43 42.29,-21.64 45.95,-22.12 55.10,-26.64 57.80,-20.13 48.13,-16.86 45.20,-14.60 49.89,-13.93 50.93,-13.55 50.22,-12.71 47.37,-9.42 51.26,-7.48 52.24,-6.97 51.42,-6.22 47.35,-3.81 50.92,-2.85" fill="#48B1E0" filter="url(#b1)"/>
<polygon points="59.17,-1.96 59.17,1.96 48.92,2.74 45.35,3.65 49.44,5.98 50.25,6.71 49.28,7.19 45.41,9.03 48.28,12.22 49.00,13.04 47.97,13.39 43.30,13.98 46.25,16.20 55.41,20.83 53.91,24.46 44.15,21.25 40.50,20.73 43.39,24.45 43.86,25.43 42.78,25.50 38.50,25.72 39.93,29.76 40.28,30.79 39.19,30.73 34.65,29.49 36.53,32.66 43.23,40.45 40.45,43.23 32.66,36.53 29.49,34.65 30.73,39.19 30.79,40.28 29.76,39.93 25.72,38.50 25.50,42.78 25.43,43.86 24.45,43.39 20.73,40.50 21.25,44.15 24.46,53.91 20.83,55.41 16.20,46.25 13.98,43.30 13.39,47.97 13.04,49.00 12.22,48.28 9.03,45.41 7.19,49.28 6.71,50.25 5.98,49.44 3.65,45.35 2.74,48.92 1.96,59.17 -1.96,59.17 -2.74,48.92 -3.65,45.35 -5.98,49.44 -6.71,50.25 -7.19,49.28 -9.03,45.41 -12.22,48.28 -13.04,49.00 -13.39,47.97 -13.98,43.30 -16.20,46.25 -20.83,55.41 -24.46,53.91 -21.25,44.15 -20.73,40.50 -24.45,43.39 -25.43,43.86 -25.50,42.78 -25.72,38.50 -29.76,39.93 -30.79,40.28 -30.73,39.19 -29.49,34.65 -32.66,36.53 -40.45,43.23 -43.23,40.45 -36.53,32.66 -34.65,29.49 -39.19,30.73 -40.28,30.79 -39.93,29.76 -38.50,25.72 -42.78,25.50 -43.86,25.43 -43.39,24.45 -40.50,20.73 -44.15,21.25 -53.91,24.46 -55.41,20.83 -46.25,16.20 -43.30,13.98 -47.97,13.39 -49.00,13.04 -48.28,12.22 -45.41,9.03 -49.28,7.19 -50.25,6.71 -49.44,5.98 -45.35,3.65 -48.92,2.74 -59.17,1.96 -59.17,-1.96 -48.92,-2.74 -45.35,-3.65 -49.44,-5.98 -50.25,-6.71 -49.28,-7.19 -45.41,-9.03 -48.28,-12.22 -49.00,-13.04 -47.97,-13.39 -43.30,-13.98 -46.25,-16.20 -55.41,-20.83 -53.91,-24.46 -44.15,-21.25 -40.50,-20.73 -43.39,-24.45 -43.86,-25.43 -42.78,-25.50 -38.50,-25.72 -39.93,-29.76 -40.28,-30.79 -39.19,-30.73 -34.65,-29.49 -36.53,-32.66 -43.23,-40.45 -40.45,-43.23 -32.66,-36.53 -29.49,-34.65 -30.73,-39.19 -30.79,-40.28 -29.76,-39.93 -25.72,-38.50 -25.50,-42.78 -25.43,-43.86 -24.45,-43.39 -20.73,-40.50 -21.25,-44.15 -24.46,-53.91 -20.83,-55.41 -16.20,-46.25 -13.98,-43.30 -13.39,-47.97 -13.04,-49.00 -12.22,-48.28 -9.03,-45.41 -7.19,-49.28 -6.71,-50.25 -5.98,-49.44 -3.65,-45.35 -2.74,-48.92 -1.96,-59.17 1.96,-59.17 2.74,-48.92 3.65,-45.35 5.98,-49.44 6.71,-50.25 7.19,-49.28 9.03,-45.41 12.22,-48.28 13.04,-49.00 13.39,-47.97 13.98,-43.30 16.20,-46.25 20.83,-55.41 24.46,-53.91 21.25,-44.15 20.73,-40.50 24.45,-43.39 25.43,-43.86 25.50,-42.78 25.72,-38.50 29.76,-39.93 30.79,-40.28 30.73,-39.19 29.49,-34.65 32.66,-36.53 40.45,-43.23 43.23,-40.45 36.53,-32.66 34.65,-29.49 39.19,-30.73 40.28,-30.79 39.93,-29.76 38.50,-25.72 42.78,-25.50 43.86,-25.43 43.39,-24.45 40.50,-20.73 44.15,-21.25 53.91,-24.46 55.41,-20.83 46.25,-16.20 43.30,-13.98 47.97,-13.39 49.00,-13.04 48.28,-12.22 45.41,-9.03 49.28,-7.19 50.25,-6.71 49.44,-5.98 45.35,-3.65 48.92,-2.74" fill="url(#tealb)" filter="url(#b1)"/>
<path d="M31.64,-0.80C31.64,1.63 31.29,4.15 30.63,6.51C29.97,8.86 28.95,11.21 27.67,13.32C26.39,15.43 24.76,17.45 22.95,19.17C21.14,20.89 19.02,22.44 16.80,23.66C14.59,24.88 12.12,25.85 9.65,26.48C7.17,27.11 4.52,27.44 1.96,27.44C-0.60,27.44 -3.24,27.11 -5.72,26.48C-8.19,25.85 -10.66,24.88 -12.87,23.66C-15.09,22.44 -17.21,20.89 -19.02,19.17C-20.83,17.45 -22.46,15.43 -23.74,13.32C-25.02,11.21 -26.04,8.86 -26.70,6.51C-27.36,4.15 -27.71,1.63 -27.71,-0.80C-27.71,-3.24 -27.36,-5.76 -26.70,-8.11C-26.04,-10.47 -25.02,-12.81 -23.74,-14.92C-22.46,-17.03 -20.83,-19.05 -19.02,-20.77C-17.21,-22.50 -15.09,-24.04 -12.87,-25.26C-10.66,-26.48 -8.19,-27.45 -5.72,-28.08C-3.24,-28.71 -0.60,-29.05 1.96,-29.05C4.52,-29.05 7.17,-28.71 9.65,-28.08C12.12,-27.45 14.59,-26.48 16.80,-25.26C19.02,-24.04 21.14,-22.50 22.95,-20.77C24.76,-19.05 26.39,-17.03 27.67,-14.92C28.95,-12.81 29.97,-10.47 30.63,-8.11C31.29,-5.76 31.64,-3.24 31.64,-0.80Z" fill="#48B1E0" filter="url(#b1)"/>
<path d="M25.33,-1.38C25.33,0.50 25.06,2.45 24.53,4.26C24.00,6.08 23.18,7.89 22.16,9.52C21.14,11.15 19.85,12.70 18.40,14.03C16.96,15.36 15.27,16.56 13.51,17.50C11.74,18.44 9.77,19.19 7.80,19.67C5.83,20.16 3.72,20.42 1.68,20.42C-0.36,20.42 -2.47,20.16 -4.45,19.67C-6.42,19.19 -8.38,18.44 -10.15,17.50C-11.92,16.56 -13.61,15.36 -15.05,14.03C-16.49,12.70 -17.79,11.15 -18.81,9.52C-19.83,7.89 -20.64,6.08 -21.17,4.26C-21.70,2.45 -21.98,0.50 -21.98,-1.38C-21.98,-3.26 -21.70,-5.20 -21.17,-7.02C-20.64,-8.83 -19.83,-10.64 -18.81,-12.27C-17.79,-13.90 -16.49,-15.46 -15.05,-16.79C-13.61,-18.12 -11.92,-19.31 -10.15,-20.25C-8.38,-21.19 -6.42,-21.94 -4.45,-22.43C-2.47,-22.91 -0.36,-23.17 1.68,-23.17C3.72,-23.17 5.83,-22.91 7.80,-22.43C9.77,-21.94 11.74,-21.19 13.51,-20.25C15.27,-19.31 16.96,-18.12 18.40,-16.79C19.85,-15.46 21.14,-13.90 22.16,-12.27C23.18,-10.64 24.00,-8.83 24.53,-7.02C25.06,-5.20 25.33,-3.26 25.33,-1.38Z" fill="#4C85C6" filter="url(#b1)"/>
<path d="M-4.06,-16.86C-0.71,-17.34 5.26,-16.86 8.85,-15.43C12.43,-13.99 15.66,-11.13 17.45,-8.26C19.24,-5.39 19.72,-1.09 19.60,1.78C19.48,4.65 18.52,6.92 16.73,8.95C14.94,10.98 11.35,13.13 8.85,13.96C6.34,14.80 3.83,14.80 1.68,13.96C-0.47,13.13 -1.91,10.98 -4.06,8.95C-6.21,6.92 -9.55,4.17 -11.23,1.78C-12.90,-0.61 -14.09,-3.00 -14.09,-5.39C-14.09,-7.78 -12.90,-10.65 -11.23,-12.56C-9.55,-14.47 -7.40,-16.38 -4.06,-16.86Z" fill="#4464AE" filter="url(#b1)"/>
<path d="M3.11,-7.11C4.26,-7.40 7.46,-8.11 8.85,-7.11C10.23,-6.11 11.31,-3.05 11.43,-1.09C11.55,0.87 10.71,3.45 9.56,4.65C8.42,5.84 5.81,6.32 4.54,6.08C3.28,5.84 2.20,4.53 1.96,3.21C1.73,1.90 3.11,-0.37 3.11,-1.81C3.11,-3.24 1.96,-4.51 1.96,-5.39C1.96,-6.27 1.96,-6.82 3.11,-7.11Z" fill="#2E3F94" filter="url(#b1)"/>
</g>
<circle r="59.85" fill="none" stroke="#fff" stroke-width="3.4999999999999973"/>
<g transform="rotate(0.00) translate(62.30,0) scale(-1,1)">
<polygon points="8,-1.9 14,-2.6 21,-3.4 21,3.4 14,2.6 8,1.9" fill="url(#tailB)" filter="url(#b1)"/>
<polygon points="0.4,-1.5 6,-1.9 12,-2.2 16,-2.4 16,2.4 12,2.2 6,1.9 0.4,1.5" fill="url(#sheath)" filter="url(#b1)"/>
<polygon points="0.8,-0.9 7,-1.0 12.5,-0.8 12.5,0.8 7,1.0 0.8,0.9" fill="url(#yel)" filter="url(#b1)"/>
<polygon points="0.6,-0.7 5,-0.75 9,-0.55 9,0.55 5,0.75 0.6,0.7" fill="url(#core)" filter="url(#b05)"/>
</g>
<g transform="rotate(22.50) translate(62.30,0) scale(-1,1)">
<polygon points="8,-1.9 14,-2.6 21,-3.4 21,3.4 14,2.6 8,1.9" fill="url(#tailB)" filter="url(#b1)"/>
<polygon points="0.4,-1.5 6,-1.9 12,-2.2 16,-2.4 16,2.4 12,2.2 6,1.9 0.4,1.5" fill="url(#sheath)" filter="url(#b1)"/>
<polygon points="0.8,-0.9 7,-1.0 12.5,-0.8 12.5,0.8 7,1.0 0.8,0.9" fill="url(#yel)" filter="url(#b1)"/>
<polygon points="0.6,-0.7 5,-0.75 9,-0.55 9,0.55 5,0.75 0.6,0.7" fill="url(#core)" filter="url(#b05)"/>
</g>
<g transform="rotate(45.00) translate(62.30,0) scale(-1,1)">
<polygon points="8,-1.9 14,-2.6 21,-3.4 21,3.4 14,2.6 8,1.9" fill="url(#tailB)" filter="url(#b1)"/>
<polygon points="0.4,-1.5 6,-1.9 12,-2.2 16,-2.4 16,2.4 12,2.2 6,1.9 0.4,1.5" fill="url(#sheath)" filter="url(#b1)"/>
<polygon points="0.8,-0.9 7,-1.0 12.5,-0.8 12.5,0.8 7,1.0 0.8,0.9" fill="url(#yel)" filter="url(#b1)"/>
<polygon points="0.6,-0.7 5,-0.75 9,-0.55 9,0.55 5,0.75 0.6,0.7" fill="url(#core)" filter="url(#b05)"/>
</g>
<g transform="rotate(67.50) translate(62.30,0) scale(-1,1)">
<polygon points="8,-1.9 14,-2.6 21,-3.4 21,3.4 14,2.6 8,1.9" fill="url(#tailB)" filter="url(#b1)"/>
<polygon points="0.4,-1.5 6,-1.9 12,-2.2 16,-2.4 16,2.4 12,2.2 6,1.9 0.4,1.5" fill="url(#sheath)" filter="url(#b1)"/>
<polygon points="0.8,-0.9 7,-1.0 12.5,-0.8 12.5,0.8 7,1.0 0.8,0.9" fill="url(#yel)" filter="url(#b1)"/>
<polygon points="0.6,-0.7 5,-0.75 9,-0.55 9,0.55 5,0.75 0.6,0.7" fill="url(#core)" filter="url(#b05)"/>
</g>
<g transform="rotate(90.00) translate(62.30,0) scale(-1,1)">
<polygon points="8,-1.9 14,-2.6 21,-3.4 21,3.4 14,2.6 8,1.9" fill="url(#tailB)" filter="url(#b1)"/>
<polygon points="0.4,-1.5 6,-1.9 12,-2.2 16,-2.4 16,2.4 12,2.2 6,1.9 0.4,1.5" fill="url(#sheath)" filter="url(#b1)"/>
<polygon points="0.8,-0.9 7,-1.0 12.5,-0.8 12.5,0.8 7,1.0 0.8,0.9" fill="url(#yel)" filter="url(#b1)"/>
<polygon points="0.6,-0.7 5,-0.75 9,-0.55 9,0.55 5,0.75 0.6,0.7" fill="url(#core)" filter="url(#b05)"/>
</g>
<g transform="rotate(112.50) translate(62.30,0) scale(-1,1)">
<polygon points="8,-1.9 14,-2.6 21,-3.4 21,3.4 14,2.6 8,1.9" fill="url(#tailB)" filter="url(#b1)"/>
<polygon points="0.4,-1.5 6,-1.9 12,-2.2 16,-2.4 16,2.4 12,2.2 6,1.9 0.4,1.5" fill="url(#sheath)" filter="url(#b1)"/>
<polygon points="0.8,-0.9 7,-1.0 12.5,-0.8 12.5,0.8 7,1.0 0.8,0.9" fill="url(#yel)" filter="url(#b1)"/>
<polygon points="0.6,-0.7 5,-0.75 9,-0.55 9,0.55 5,0.75 0.6,0.7" fill="url(#core)" filter="url(#b05)"/>
</g>
<g transform="rotate(135.00) translate(62.30,0) scale(-1,1)">
<polygon points="8,-1.9 14,-2.6 21,-3.4 21,3.4 14,2.6 8,1.9" fill="url(#tailB)" filter="url(#b1)"/>
<polygon points="0.4,-1.5 6,-1.9 12,-2.2 16,-2.4 16,2.4 12,2.2 6,1.9 0.4,1.5" fill="url(#sheath)" filter="url(#b1)"/>
<polygon points="0.8,-0.9 7,-1.0 12.5,-0.8 12.5,0.8 7,1.0 0.8,0.9" fill="url(#yel)" filter="url(#b1)"/>
<polygon points="0.6,-0.7 5,-0.75 9,-0.55 9,0.55 5,0.75 0.6,0.7" fill="url(#core)" filter="url(#b05)"/>
</g>
<g transform="rotate(157.50) translate(62.30,0) scale(-1,1)">
<polygon points="8,-1.9 14,-2.6 21,-3.4 21,3.4 14,2.6 8,1.9" fill="url(#tailB)" filter="url(#b1)"/>
<polygon points="0.4,-1.5 6,-1.9 12,-2.2 16,-2.4 16,2.4 12,2.2 6,1.9 0.4,1.5" fill="url(#sheath)" filter="url(#b1)"/>
<polygon points="0.8,-0.9 7,-1.0 12.5,-0.8 12.5,0.8 7,1.0 0.8,0.9" fill="url(#yel)" filter="url(#b1)"/>
<polygon points="0.6,-0.7 5,-0.75 9,-0.55 9,0.55 5,0.75 0.6,0.7" fill="url(#core)" filter="url(#b05)"/>
</g>
<g transform="rotate(180.00) translate(62.30,0) scale(-1,1)">
<polygon points="8,-1.9 14,-2.6 21,-3.4 21,3.4 14,2.6 8,1.9" fill="url(#tailB)" filter="url(#b1)"/>
<polygon points="0.4,-1.5 6,-1.9 12,-2.2 16,-2.4 16,2.4 12,2.2 6,1.9 0.4,1.5" fill="url(#sheath)" filter="url(#b1)"/>
<polygon points="0.8,-0.9 7,-1.0 12.5,-0.8 12.5,0.8 7,1.0 0.8,0.9" fill="url(#yel)" filter="url(#b1)"/>
<polygon points="0.6,-0.7 5,-0.75 9,-0.55 9,0.55 5,0.75 0.6,0.7" fill="url(#core)" filter="url(#b05)"/>
</g>
<g transform="rotate(202.50) translate(62.30,0) scale(-1,1)">
<polygon points="8,-1.9 14,-2.6 21,-3.4 21,3.4 14,2.6 8,1.9" fill="url(#tailB)" filter="url(#b1)"/>
<polygon points="0.4,-1.5 6,-1.9 12,-2.2 16,-2.4 16,2.4 12,2.2 6,1.9 0.4,1.5" fill="url(#sheath)" filter="url(#b1)"/>
<polygon points="0.8,-0.9 7,-1.0 12.5,-0.8 12.5,0.8 7,1.0 0.8,0.9" fill="url(#yel)" filter="url(#b1)"/>
<polygon points="0.6,-0.7 5,-0.75 9,-0.55 9,0.55 5,0.75 0.6,0.7" fill="url(#core)" filter="url(#b05)"/>
</g>
<g transform="rotate(225.00) translate(62.30,0) scale(-1,1)">
<polygon points="8,-1.9 14,-2.6 21,-3.4 21,3.4 14,2.6 8,1.9" fill="url(#tailB)" filter="url(#b1)"/>
<polygon points="0.4,-1.5 6,-1.9 12,-2.2 16,-2.4 16,2.4 12,2.2 6,1.9 0.4,1.5" fill="url(#sheath)" filter="url(#b1)"/>
<polygon points="0.8,-0.9 7,-1.0 12.5,-0.8 12.5,0.8 7,1.0 0.8,0.9" fill="url(#yel)" filter="url(#b1)"/>
<polygon points="0.6,-0.7 5,-0.75 9,-0.55 9,0.55 5,0.75 0.6,0.7" fill="url(#core)" filter="url(#b05)"/>
</g>
<g transform="rotate(247.50) translate(62.30,0) scale(-1,1)">
<polygon points="8,-1.9 14,-2.6 21,-3.4 21,3.4 14,2.6 8,1.9" fill="url(#tailB)" filter="url(#b1)"/>
<polygon points="0.4,-1.5 6,-1.9 12,-2.2 16,-2.4 16,2.4 12,2.2 6,1.9 0.4,1.5" fill="url(#sheath)" filter="url(#b1)"/>
<polygon points="0.8,-0.9 7,-1.0 12.5,-0.8 12.5,0.8 7,1.0 0.8,0.9" fill="url(#yel)" filter="url(#b1)"/>
<polygon points="0.6,-0.7 5,-0.75 9,-0.55 9,0.55 5,0.75 0.6,0.7" fill="url(#core)" filter="url(#b05)"/>
</g>
<g transform="rotate(270.00) translate(62.30,0) scale(-1,1)">
<polygon points="8,-1.9 14,-2.6 21,-3.4 21,3.4 14,2.6 8,1.9" fill="url(#tailB)" filter="url(#b1)"/>
<polygon points="0.4,-1.5 6,-1.9 12,-2.2 16,-2.4 16,2.4 12,2.2 6,1.9 0.4,1.5" fill="url(#sheath)" filter="url(#b1)"/>
<polygon points="0.8,-0.9 7,-1.0 12.5,-0.8 12.5,0.8 7,1.0 0.8,0.9" fill="url(#yel)" filter="url(#b1)"/>
<polygon points="0.6,-0.7 5,-0.75 9,-0.55 9,0.55 5,0.75 0.6,0.7" fill="url(#core)" filter="url(#b05)"/>
</g>
<g transform="rotate(292.50) translate(62.30,0) scale(-1,1)">
<polygon points="8,-1.9 14,-2.6 21,-3.4 21,3.4 14,2.6 8,1.9" fill="url(#tailB)" filter="url(#b1)"/>
<polygon points="0.4,-1.5 6,-1.9 12,-2.2 16,-2.4 16,2.4 12,2.2 6,1.9 0.4,1.5" fill="url(#sheath)" filter="url(#b1)"/>
<polygon points="0.8,-0.9 7,-1.0 12.5,-0.8 12.5,0.8 7,1.0 0.8,0.9" fill="url(#yel)" filter="url(#b1)"/>
<polygon points="0.6,-0.7 5,-0.75 9,-0.55 9,0.55 5,0.75 0.6,0.7" fill="url(#core)" filter="url(#b05)"/>
</g>
<g transform="rotate(315.00) translate(62.30,0) scale(-1,1)">
<polygon points="8,-1.9 14,-2.6 21,-3.4 21,3.4 14,2.6 8,1.9" fill="url(#tailB)" filter="url(#b1)"/>
<polygon points="0.4,-1.5 6,-1.9 12,-2.2 16,-2.4 16,2.4 12,2.2 6,1.9 0.4,1.5" fill="url(#sheath)" filter="url(#b1)"/>
<polygon points="0.8,-0.9 7,-1.0 12.5,-0.8 12.5,0.8 7,1.0 0.8,0.9" fill="url(#yel)" filter="url(#b1)"/>
<polygon points="0.6,-0.7 5,-0.75 9,-0.55 9,0.55 5,0.75 0.6,0.7" fill="url(#core)" filter="url(#b05)"/>
</g>
<g transform="rotate(337.50) translate(62.30,0) scale(-1,1)">
<polygon points="8,-1.9 14,-2.6 21,-3.4 21,3.4 14,2.6 8,1.9" fill="url(#tailB)" filter="url(#b1)"/>
<polygon points="0.4,-1.5 6,-1.9 12,-2.2 16,-2.4 16,2.4 12,2.2 6,1.9 0.4,1.5" fill="url(#sheath)" filter="url(#b1)"/>
<polygon points="0.8,-0.9 7,-1.0 12.5,-0.8 12.5,0.8 7,1.0 0.8,0.9" fill="url(#yel)" filter="url(#b1)"/>
<polygon points="0.6,-0.7 5,-0.75 9,-0.55 9,0.55 5,0.75 0.6,0.7" fill="url(#core)" filter="url(#b05)"/>
</g>
</g>
<g transform="translate(376.2,452.2)" filter="url(#soft)">
<clipPath id="clipc"><circle r="56.9"/></clipPath>
<circle r="73.2" fill="#2E3F94"/>
<circle r="71.0" fill="#4262AB"/>
<polygon points="64.23,-5.85 72.60,-6.61 72.60,6.61 64.23,5.85" fill="#2E3F94" transform="rotate(45)"/>
<polygon points="64.23,-5.85 72.60,-6.61 72.60,6.61 64.23,5.85" fill="#2E3F94" transform="rotate(135)"/>
<polygon points="64.23,-5.85 72.60,-6.61 72.60,6.61 64.23,5.85" fill="#2E3F94" transform="rotate(225)"/>
<polygon points="64.23,-5.85 72.60,-6.61 72.60,6.61 64.23,5.85" fill="#2E3F94" transform="rotate(315)"/>
<circle r="58.3" fill="none" stroke="#2E3F94" stroke-width="4.599999999999999" opacity="0.55"/>
<circle cx="61.00" cy="12.13" r="4.2" fill="#4A7EC4" opacity="0.7" filter="url(#b2)"/>
<circle cx="60.12" cy="11.96" r="2.9" fill="#4CB6E6" filter="url(#b15)"/>
<circle cx="60.79" cy="25.18" r="3.2" fill="#4A7EC4" opacity="0.55" filter="url(#b2)"/>
<circle cx="60.79" cy="25.18" r="1.3" fill="#4A9AD6" opacity="0.9" filter="url(#b1)"/>
<circle cx="51.72" cy="34.56" r="4.2" fill="#4A7EC4" opacity="0.7" filter="url(#b2)"/>
<circle cx="50.97" cy="34.06" r="2.9" fill="#4CB6E6" filter="url(#b15)"/>
<circle cx="46.53" cy="46.53" r="3.2" fill="#4A7EC4" opacity="0.55" filter="url(#b2)"/>
<circle cx="46.53" cy="46.53" r="1.3" fill="#4A9AD6" opacity="0.9" filter="url(#b1)"/>
<circle cx="34.56" cy="51.72" r="4.2" fill="#4A7EC4" opacity="0.7" filter="url(#b2)"/>
<circle cx="34.06" cy="50.97" r="2.9" fill="#4CB6E6" filter="url(#b15)"/>
<circle cx="25.18" cy="60.79" r="3.2" fill="#4A7EC4" opacity="0.55" filter="url(#b2)"/>
<circle cx="25.18" cy="60.79" r="1.3" fill="#4A9AD6" opacity="0.9" filter="url(#b1)"/>
<circle cx="12.13" cy="61.00" r="4.2" fill="#4A7EC4" opacity="0.7" filter="url(#b2)"/>
<circle cx="11.96" cy="60.12" r="2.9" fill="#4CB6E6" filter="url(#b15)"/>
<circle cx="0.00" cy="65.80" r="3.2" fill="#4A7EC4" opacity="0.55" filter="url(#b2)"/>
<circle cx="0.00" cy="65.80" r="1.3" fill="#4A9AD6" opacity="0.9" filter="url(#b1)"/>
<circle cx="-12.13" cy="61.00" r="4.2" fill="#4A7EC4" opacity="0.7" filter="url(#b2)"/>
<circle cx="-11.96" cy="60.12" r="2.9" fill="#4CB6E6" filter="url(#b15)"/>
<circle cx="-25.18" cy="60.79" r="3.2" fill="#4A7EC4" opacity="0.55" filter="url(#b2)"/>
<circle cx="-25.18" cy="60.79" r="1.3" fill="#4A9AD6" opacity="0.9" filter="url(#b1)"/>
<circle cx="-34.56" cy="51.72" r="4.2" fill="#4A7EC4" opacity="0.7" filter="url(#b2)"/>
<circle cx="-34.06" cy="50.97" r="2.9" fill="#4CB6E6" filter="url(#b15)"/>
<circle cx="-46.53" cy="46.53" r="3.2" fill="#4A7EC4" opacity="0.55" filter="url(#b2)"/>
<circle cx="-46.53" cy="46.53" r="1.3" fill="#4A9AD6" opacity="0.9" filter="url(#b1)"/>
<circle cx="-51.72" cy="34.56" r="4.2" fill="#4A7EC4" opacity="0.7" filter="url(#b2)"/>
<circle cx="-50.97" cy="34.06" r="2.9" fill="#4CB6E6" filter="url(#b15)"/>
<circle cx="-60.79" cy="25.18" r="3.2" fill="#4A7EC4" opacity="0.55" filter="url(#b2)"/>
<circle cx="-60.79" cy="25.18" r="1.3" fill="#4A9AD6" opacity="0.9" filter="url(#b1)"/>
<circle cx="-61.00" cy="12.13" r="4.2" fill="#4A7EC4" opacity="0.7" filter="url(#b2)"/>
<circle cx="-60.12" cy="11.96" r="2.9" fill="#4CB6E6" filter="url(#b15)"/>
<circle cx="-65.80" cy="0.00" r="3.2" fill="#4A7EC4" opacity="0.55" filter="url(#b2)"/>
<circle cx="-65.80" cy="0.00" r="1.3" fill="#4A9AD6" opacity="0.9" filter="url(#b1)"/>
<circle cx="-61.00" cy="-12.13" r="4.2" fill="#4A7EC4" opacity="0.7" filter="url(#b2)"/>
<circle cx="-60.12" cy="-11.96" r="2.9" fill="#4CB6E6" filter="url(#b15)"/>
<circle cx="-60.79" cy="-25.18" r="3.2" fill="#4A7EC4" opacity="0.55" filter="url(#b2)"/>
<circle cx="-60.79" cy="-25.18" r="1.3" fill="#4A9AD6" opacity="0.9" filter="url(#b1)"/>
<circle cx="-51.72" cy="-34.56" r="4.2" fill="#4A7EC4" opacity="0.7" filter="url(#b2)"/>
<circle cx="-50.97" cy="-34.06" r="2.9" fill="#4CB6E6" filter="url(#b15)"/>
<circle cx="-46.53" cy="-46.53" r="3.2" fill="#4A7EC4" opacity="0.55" filter="url(#b2)"/>
<circle cx="-46.53" cy="-46.53" r="1.3" fill="#4A9AD6" opacity="0.9" filter="url(#b1)"/>
<circle cx="-34.56" cy="-51.72" r="4.2" fill="#4A7EC4" opacity="0.7" filter="url(#b2)"/>
<circle cx="-34.06" cy="-50.97" r="2.9" fill="#4CB6E6" filter="url(#b15)"/>
<circle cx="-25.18" cy="-60.79" r="3.2" fill="#4A7EC4" opacity="0.55" filter="url(#b2)"/>
<circle cx="-25.18" cy="-60.79" r="1.3" fill="#4A9AD6" opacity="0.9" filter="url(#b1)"/>
<circle cx="-12.13" cy="-61.00" r="4.2" fill="#4A7EC4" opacity="0.7" filter="url(#b2)"/>
<circle cx="-11.96" cy="-60.12" r="2.9" fill="#4CB6E6" filter="url(#b15)"/>
<circle cx="-0.00" cy="-65.80" r="3.2" fill="#4A7EC4" opacity="0.55" filter="url(#b2)"/>
<circle cx="-0.00" cy="-65.80" r="1.3" fill="#4A9AD6" opacity="0.9" filter="url(#b1)"/>
<circle cx="12.13" cy="-61.00" r="4.2" fill="#4A7EC4" opacity="0.7" filter="url(#b2)"/>
<circle cx="11.96" cy="-60.12" r="2.9" fill="#4CB6E6" filter="url(#b15)"/>
<circle cx="25.18" cy="-60.79" r="3.2" fill="#4A7EC4" opacity="0.55" filter="url(#b2)"/>
<circle cx="25.18" cy="-60.79" r="1.3" fill="#4A9AD6" opacity="0.9" filter="url(#b1)"/>
<circle cx="34.56" cy="-51.72" r="4.2" fill="#4A7EC4" opacity="0.7" filter="url(#b2)"/>
<circle cx="34.06" cy="-50.97" r="2.9" fill="#4CB6E6" filter="url(#b15)"/>
<circle cx="46.53" cy="-46.53" r="3.2" fill="#4A7EC4" opacity="0.55" filter="url(#b2)"/>
<circle cx="46.53" cy="-46.53" r="1.3" fill="#4A9AD6" opacity="0.9" filter="url(#b1)"/>
<circle cx="51.72" cy="-34.56" r="4.2" fill="#4A7EC4" opacity="0.7" filter="url(#b2)"/>
<circle cx="50.97" cy="-34.06" r="2.9" fill="#4CB6E6" filter="url(#b15)"/>
<circle cx="60.79" cy="-25.18" r="3.2" fill="#4A7EC4" opacity="0.55" filter="url(#b2)"/>
<circle cx="60.79" cy="-25.18" r="1.3" fill="#4A9AD6" opacity="0.9" filter="url(#b1)"/>
<circle cx="61.00" cy="-12.13" r="4.2" fill="#4A7EC4" opacity="0.7" filter="url(#b2)"/>
<circle cx="60.12" cy="-11.96" r="2.9" fill="#4CB6E6" filter="url(#b15)"/>
<circle cx="65.80" cy="-0.00" r="3.2" fill="#4A7EC4" opacity="0.55" filter="url(#b2)"/>
<circle cx="65.80" cy="-0.00" r="1.3" fill="#4A9AD6" opacity="0.9" filter="url(#b1)"/>
<polygon points="64.63,-4.63 79.00,-5.66 79.00,5.66 64.63,4.63" fill="#fff" transform="rotate(45)"/>
<polygon points="64.63,-4.63 79.00,-5.66 79.00,5.66 64.63,4.63" fill="#fff" transform="rotate(135)"/>
<polygon points="64.63,-4.63 79.00,-5.66 79.00,5.66 64.63,4.63" fill="#fff" transform="rotate(225)"/>
<polygon points="64.63,-4.63 79.00,-5.66 79.00,5.66 64.63,4.63" fill="#fff" transform="rotate(315)"/>
<circle r="56.6" fill="#3C5DAA"/>
<g clip-path="url(#clipc)">
<polygon points="59.03,8.24 57.69,14.97 49.39,12.73 44.06,12.51 49.22,16.14 49.87,17.03 48.81,17.33 42.04,17.41 46.77,22.26 47.31,23.23 46.22,23.40 40.00,22.31 43.92,25.92 51.38,30.20 47.57,35.91 40.76,30.66 35.92,28.42 39.30,33.74 39.56,34.82 38.46,34.69 32.17,32.17 34.69,38.46 34.82,39.56 33.74,39.30 28.42,35.92 30.66,40.76 35.91,47.57 30.20,51.38 25.92,43.92 22.31,40.00 23.40,46.22 23.23,47.31 22.26,46.77 17.41,42.04 17.33,48.81 17.03,49.87 16.14,49.22 12.51,44.06 12.73,49.39 14.97,57.69 8.24,59.03 7.14,50.50 5.30,45.49 3.93,51.65 3.35,52.59 2.67,51.73 0.00,45.50 -2.67,51.73 -3.35,52.59 -3.93,51.65 -5.30,45.49 -7.14,50.50 -8.24,59.03 -14.97,57.69 -12.73,49.39 -12.51,44.06 -16.14,49.22 -17.03,49.87 -17.33,48.81 -17.41,42.04 -22.26,46.77 -23.23,47.31 -23.40,46.22 -22.31,40.00 -25.92,43.92 -30.20,51.38 -35.91,47.57 -30.66,40.76 -28.42,35.92 -33.74,39.30 -34.82,39.56 -34.69,38.46 -32.17,32.17 -38.46,34.69 -39.56,34.82 -39.30,33.74 -35.92,28.42 -40.76,30.66 -47.57,35.91 -51.38,30.20 -43.92,25.92 -40.00,22.31 -46.22,23.40 -47.31,23.23 -46.77,22.26 -42.04,17.41 -48.81,17.33 -49.87,17.03 -49.22,16.14 -44.06,12.51 -49.39,12.73 -57.69,14.97 -59.03,8.24 -50.50,7.14 -45.49,5.30 -51.65,3.93 -52.59,3.35 -51.73,2.67 -45.50,0.00 -51.73,-2.67 -52.59,-3.35 -51.65,-3.93 -45.49,-5.30 -50.50,-7.14 -59.03,-8.24 -57.69,-14.97 -49.39,-12.73 -44.06,-12.51 -49.22,-16.14 -49.87,-17.03 -48.81,-17.33 -42.04,-17.41 -46.77,-22.26 -47.31,-23.23 -46.22,-23.40 -40.00,-22.31 -43.92,-25.92 -51.38,-30.20 -47.57,-35.91 -40.76,-30.66 -35.92,-28.42 -39.30,-33.74 -39.56,-34.82 -38.46,-34.69 -32.17,-32.17 -34.69,-38.46 -34.82,-39.56 -33.74,-39.30 -28.42,-35.92 -30.66,-40.76 -35.91,-47.57 -30.20,-51.38 -25.92,-43.92 -22.31,-40.00 -23.40,-46.22 -23.23,-47.31 -22.26,-46.77 -17.41,-42.04 -17.33,-48.81 -17.03,-49.87 -16.14,-49.22 -12.51,-44.06 -12.73,-49.39 -14.97,-57.69 -8.24,-59.03 -7.14,-50.50 -5.30,-45.49 -3.93,-51.65 -3.35,-52.59 -2.67,-51.73 -0.00,-45.50 2.67,-51.73 3.35,-52.59 3.93,-51.65 5.30,-45.49 7.14,-50.50 8.24,-59.03 14.97,-57.69 12.73,-49.39 12.51,-44.06 16.14,-49.22 17.03,-49.87 17.33,-48.81 17.41,-42.04 22.26,-46.77 23.23,-47.31 23.40,-46.22 22.31,-40.00 25.92,-43.92 30.20,-51.38 35.91,-47.57 30.66,-40.76 28.42,-35.92 33.74,-39.30 34.82,-39.56 34.69,-38.46 32.17,-32.17 38.46,-34.69 39.56,-34.82 39.30,-33.74 35.92,-28.42 40.76,-30.66 47.57,-35.91 51.38,-30.20 43.92,-25.92 40.00,-22.31 46.22,-23.40 47.31,-23.23 46.77,-22.26 42.04,-17.41 48.81,-17.33 49.87,-17.03 49.22,-16.14 44.06,-12.51 49.39,-12.73 57.69,-14.97 59.03,-8.24 50.50,-7.14 45.49,-5.30 51.65,-3.93 52.59,-3.35 51.73,-2.67 45.50,-0.00 51.73,2.67 52.59,3.35 51.65,3.93 45.49,5.30 50.50,7.14" fill="#48B1E0" filter="url(#b1)"/>
<polygon points="56.83,9.36 56.09,13.10 47.45,12.23 42.13,11.96 47.32,15.51 47.98,16.38 46.93,16.66 40.19,16.65 44.97,21.40 45.51,22.34 44.43,22.49 38.25,21.33 42.20,24.91 48.93,30.40 46.81,33.57 39.16,29.45 34.35,27.18 37.78,32.44 38.06,33.50 36.98,33.35 30.76,30.76 33.35,36.98 33.50,38.06 32.44,37.78 27.18,34.35 29.45,39.16 33.57,46.81 30.40,48.93 24.91,42.20 21.33,38.25 22.49,44.43 22.34,45.51 21.40,44.97 16.65,40.19 16.66,46.93 16.38,47.98 15.51,47.32 11.96,42.13 12.23,47.45 13.10,56.09 9.36,56.83 6.86,48.52 5.07,43.51 3.78,49.66 3.23,50.60 2.56,49.73 0.00,43.50 -2.56,49.73 -3.23,50.60 -3.78,49.66 -5.07,43.51 -6.86,48.52 -9.36,56.83 -13.10,56.09 -12.23,47.45 -11.96,42.13 -15.51,47.32 -16.38,47.98 -16.66,46.93 -16.65,40.19 -21.40,44.97 -22.34,45.51 -22.49,44.43 -21.33,38.25 -24.91,42.20 -30.40,48.93 -33.57,46.81 -29.45,39.16 -27.18,34.35 -32.44,37.78 -33.50,38.06 -33.35,36.98 -30.76,30.76 -36.98,33.35 -38.06,33.50 -37.78,32.44 -34.35,27.18 -39.16,29.45 -46.81,33.57 -48.93,30.40 -42.20,24.91 -38.25,21.33 -44.43,22.49 -45.51,22.34 -44.97,21.40 -40.19,16.65 -46.93,16.66 -47.98,16.38 -47.32,15.51 -42.13,11.96 -47.45,12.23 -56.09,13.10 -56.83,9.36 -48.52,6.86 -43.51,5.07 -49.66,3.78 -50.60,3.23 -49.73,2.56 -43.50,0.00 -49.73,-2.56 -50.60,-3.23 -49.66,-3.78 -43.51,-5.07 -48.52,-6.86 -56.83,-9.36 -56.09,-13.10 -47.45,-12.23 -42.13,-11.96 -47.32,-15.51 -47.98,-16.38 -46.93,-16.66 -40.19,-16.65 -44.97,-21.40 -45.51,-22.34 -44.43,-22.49 -38.25,-21.33 -42.20,-24.91 -48.93,-30.40 -46.81,-33.57 -39.16,-29.45 -34.35,-27.18 -37.78,-32.44 -38.06,-33.50 -36.98,-33.35 -30.76,-30.76 -33.35,-36.98 -33.50,-38.06 -32.44,-37.78 -27.18,-34.35 -29.45,-39.16 -33.57,-46.81 -30.40,-48.93 -24.91,-42.20 -21.33,-38.25 -22.49,-44.43 -22.34,-45.51 -21.40,-44.97 -16.65,-40.19 -16.66,-46.93 -16.38,-47.98 -15.51,-47.32 -11.96,-42.13 -12.23,-47.45 -13.10,-56.09 -9.36,-56.83 -6.86,-48.52 -5.07,-43.51 -3.78,-49.66 -3.23,-50.60 -2.56,-49.73 -0.00,-43.50 2.56,-49.73 3.23,-50.60 3.78,-49.66 5.07,-43.51 6.86,-48.52 9.36,-56.83 13.10,-56.09 12.23,-47.45 11.96,-42.13 15.51,-47.32 16.38,-47.98 16.66,-46.93 16.65,-40.19 21.40,-44.97 22.34,-45.51 22.49,-44.43 21.33,-38.25 24.91,-42.20 30.40,-48.93 33.57,-46.81 29.45,-39.16 27.18,-34.35 32.44,-37.78 33.50,-38.06 33.35,-36.98 30.76,-30.76 36.98,-33.35 38.06,-33.50 37.78,-32.44 34.35,-27.18 39.16,-29.45 46.81,-33.57 48.93,-30.40 42.20,-24.91 38.25,-21.33 44.43,-22.49 45.51,-22.34 44.97,-21.40 40.19,-16.65 46.93,-16.66 47.98,-16.38 47.32,-15.51 42.13,-11.96 47.45,-12.23 56.09,-13.10 56.83,-9.36 48.52,-6.86 43.51,-5.07 49.66,-3.78 50.60,-3.23 49.73,-2.56 43.50,-0.00 49.73,2.56 50.60,3.23 49.66,3.78 43.51,5.07 48.52,6.86" fill="url(#tealc)" filter="url(#b1)"/>
<path d="M-0.06,-26.58C4.00,-26.70 9.02,-26.10 12.85,-24.43C16.67,-22.76 20.13,-19.65 22.88,-16.54C25.63,-13.44 28.14,-9.73 29.33,-5.79C30.53,-1.85 30.77,2.81 30.05,7.11C29.33,11.41 27.42,16.19 25.03,20.01C22.64,23.84 19.42,28.02 15.71,30.05C12.01,32.08 6.63,32.44 2.81,32.20C-1.01,31.96 -4.12,30.17 -7.23,28.62C-10.33,27.06 -13.20,25.03 -15.83,22.88C-18.46,20.73 -21.08,18.82 -23.00,15.71C-24.91,12.61 -26.70,8.07 -27.30,4.24C-27.89,0.42 -27.54,-3.64 -26.58,-7.23C-25.62,-10.81 -24.07,-14.51 -21.56,-17.26C-19.05,-20.01 -15.11,-22.16 -11.53,-23.71C-7.94,-25.27 -4.12,-26.46 -0.06,-26.58Z" fill="#48B1E0" filter="url(#b1)"/>
<path d="M1.38,-18.70C4.72,-18.58 8.43,-18.22 11.41,-16.54C14.40,-14.87 17.39,-11.65 19.30,-8.66C21.21,-5.67 22.52,-2.21 22.88,1.38C23.24,4.96 22.64,9.50 21.45,12.85C20.25,16.19 18.34,19.30 15.71,21.45C13.08,23.60 8.78,25.51 5.68,25.75C2.57,25.99 -0.06,24.55 -2.92,22.88C-5.79,21.21 -9.14,18.34 -11.53,15.71C-13.92,13.08 -15.95,10.22 -17.26,7.11C-18.58,4.00 -19.65,0.18 -19.41,-2.92C-19.17,-6.03 -17.62,-9.14 -15.83,-11.53C-14.04,-13.92 -11.53,-16.07 -8.66,-17.26C-5.79,-18.46 -1.97,-18.81 1.38,-18.70Z" fill="#4C85C6" filter="url(#b1)"/>
<path d="M-1.49,-11.53C0.90,-11.41 3.41,-10.81 5.68,-9.38C7.95,-7.94 10.58,-5.43 12.13,-2.92C13.68,-0.42 14.88,2.81 15.00,5.68C15.12,8.54 14.40,12.01 12.85,14.28C11.29,16.55 8.07,18.82 5.68,19.30C3.29,19.78 0.78,18.70 -1.49,17.15C-3.76,15.59 -6.03,12.61 -7.94,9.98C-9.85,7.35 -12.12,4.00 -12.96,1.38C-13.80,-1.25 -13.68,-3.88 -12.96,-5.79C-12.24,-7.70 -10.57,-9.14 -8.66,-10.09C-6.75,-11.05 -3.88,-11.65 -1.49,-11.53Z" fill="#4464AE" filter="url(#b1)"/>
<path d="M0.66,-1.78C1.85,-1.59 3.53,-1.06 4.24,-0.06C4.96,0.95 5.20,2.93 4.96,4.24C4.72,5.56 3.89,7.71 2.81,7.83C1.73,7.95 -0.30,6.04 -1.49,4.96C-2.69,3.89 -4.12,2.40 -4.36,1.38C-4.60,0.35 -3.76,-0.68 -2.92,-1.20C-2.09,-1.73 -0.54,-1.97 0.66,-1.78Z" fill="#2E3F94" filter="url(#b1)"/>
</g>
<circle r="58.3" fill="none" stroke="#fff" stroke-width="3.5999999999999988"/>
<g transform="rotate(11.25) translate(60.80,0) scale(-1,1)">
<polygon points="8,-1.9 14,-2.6 21,-3.4 21,3.4 14,2.6 8,1.9" fill="url(#tailB)" filter="url(#b1)"/>
<polygon points="0.4,-1.5 6,-1.9 12,-2.2 16,-2.4 16,2.4 12,2.2 6,1.9 0.4,1.5" fill="url(#sheath)" filter="url(#b1)"/>
<polygon points="0.8,-0.9 7,-1.0 12.5,-0.8 12.5,0.8 7,1.0 0.8,0.9" fill="url(#yel)" filter="url(#b1)"/>
<polygon points="0.6,-0.7 5,-0.75 9,-0.55 9,0.55 5,0.75 0.6,0.7" fill="url(#core)" filter="url(#b05)"/>
</g>
<g transform="rotate(33.75) translate(60.80,0) scale(-1,1)">
<polygon points="8,-1.9 14,-2.6 21,-3.4 21,3.4 14,2.6 8,1.9" fill="url(#tailB)" filter="url(#b1)"/>
<polygon points="0.4,-1.5 6,-1.9 12,-2.2 16,-2.4 16,2.4 12,2.2 6,1.9 0.4,1.5" fill="url(#sheath)" filter="url(#b1)"/>
<polygon points="0.8,-0.9 7,-1.0 12.5,-0.8 12.5,0.8 7,1.0 0.8,0.9" fill="url(#yel)" filter="url(#b1)"/>
<polygon points="0.6,-0.7 5,-0.75 9,-0.55 9,0.55 5,0.75 0.6,0.7" fill="url(#core)" filter="url(#b05)"/>
</g>
<g transform="rotate(56.25) translate(60.80,0) scale(-1,1)">
<polygon points="8,-1.9 14,-2.6 21,-3.4 21,3.4 14,2.6 8,1.9" fill="url(#tailB)" filter="url(#b1)"/>
<polygon points="0.4,-1.5 6,-1.9 12,-2.2 16,-2.4 16,2.4 12,2.2 6,1.9 0.4,1.5" fill="url(#sheath)" filter="url(#b1)"/>
<polygon points="0.8,-0.9 7,-1.0 12.5,-0.8 12.5,0.8 7,1.0 0.8,0.9" fill="url(#yel)" filter="url(#b1)"/>
<polygon points="0.6,-0.7 5,-0.75 9,-0.55 9,0.55 5,0.75 0.6,0.7" fill="url(#core)" filter="url(#b05)"/>
</g>
<g transform="rotate(78.75) translate(60.80,0) scale(-1,1)">
<polygon points="8,-1.9 14,-2.6 21,-3.4 21,3.4 14,2.6 8,1.9" fill="url(#tailB)" filter="url(#b1)"/>
<polygon points="0.4,-1.5 6,-1.9 12,-2.2 16,-2.4 16,2.4 12,2.2 6,1.9 0.4,1.5" fill="url(#sheath)" filter="url(#b1)"/>
<polygon points="0.8,-0.9 7,-1.0 12.5,-0.8 12.5,0.8 7,1.0 0.8,0.9" fill="url(#yel)" filter="url(#b1)"/>
<polygon points="0.6,-0.7 5,-0.75 9,-0.55 9,0.55 5,0.75 0.6,0.7" fill="url(#core)" filter="url(#b05)"/>
</g>
<g transform="rotate(101.25) translate(60.80,0) scale(-1,1)">
<polygon points="8,-1.9 14,-2.6 21,-3.4 21,3.4 14,2.6 8,1.9" fill="url(#tailB)" filter="url(#b1)"/>
<polygon points="0.4,-1.5 6,-1.9 12,-2.2 16,-2.4 16,2.4 12,2.2 6,1.9 0.4,1.5" fill="url(#sheath)" filter="url(#b1)"/>
<polygon points="0.8,-0.9 7,-1.0 12.5,-0.8 12.5,0.8 7,1.0 0.8,0.9" fill="url(#yel)" filter="url(#b1)"/>
<polygon points="0.6,-0.7 5,-0.75 9,-0.55 9,0.55 5,0.75 0.6,0.7" fill="url(#core)" filter="url(#b05)"/>
</g>
<g transform="rotate(123.75) translate(60.80,0) scale(-1,1)">
<polygon points="8,-1.9 14,-2.6 21,-3.4 21,3.4 14,2.6 8,1.9" fill="url(#tailB)" filter="url(#b1)"/>
<polygon points="0.4,-1.5 6,-1.9 12,-2.2 16,-2.4 16,2.4 12,2.2 6,1.9 0.4,1.5" fill="url(#sheath)" filter="url(#b1)"/>
<polygon points="0.8,-0.9 7,-1.0 12.5,-0.8 12.5,0.8 7,1.0 0.8,0.9" fill="url(#yel)" filter="url(#b1)"/>
<polygon points="0.6,-0.7 5,-0.75 9,-0.55 9,0.55 5,0.75 0.6,0.7" fill="url(#core)" filter="url(#b05)"/>
</g>
<g transform="rotate(146.25) translate(60.80,0) scale(-1,1)">
<polygon points="8,-1.9 14,-2.6 21,-3.4 21,3.4 14,2.6 8,1.9" fill="url(#tailB)" filter="url(#b1)"/>
<polygon points="0.4,-1.5 6,-1.9 12,-2.2 16,-2.4 16,2.4 12,2.2 6,1.9 0.4,1.5" fill="url(#sheath)" filter="url(#b1)"/>
<polygon points="0.8,-0.9 7,-1.0 12.5,-0.8 12.5,0.8 7,1.0 0.8,0.9" fill="url(#yel)" filter="url(#b1)"/>
<polygon points="0.6,-0.7 5,-0.75 9,-0.55 9,0.55 5,0.75 0.6,0.7" fill="url(#core)" filter="url(#b05)"/>
</g>
<g transform="rotate(168.75) translate(60.80,0) scale(-1,1)">
<polygon points="8,-1.9 14,-2.6 21,-3.4 21,3.4 14,2.6 8,1.9" fill="url(#tailB)" filter="url(#b1)"/>
<polygon points="0.4,-1.5 6,-1.9 12,-2.2 16,-2.4 16,2.4 12,2.2 6,1.9 0.4,1.5" fill="url(#sheath)" filter="url(#b1)"/>
<polygon points="0.8,-0.9 7,-1.0 12.5,-0.8 12.5,0.8 7,1.0 0.8,0.9" fill="url(#yel)" filter="url(#b1)"/>
<polygon points="0.6,-0.7 5,-0.75 9,-0.55 9,0.55 5,0.75 0.6,0.7" fill="url(#core)" filter="url(#b05)"/>
</g>
<g transform="rotate(191.25) translate(60.80,0) scale(-1,1)">
<polygon points="8,-1.9 14,-2.6 21,-3.4 21,3.4 14,2.6 8,1.9" fill="url(#tailB)" filter="url(#b1)"/>
<polygon points="0.4,-1.5 6,-1.9 12,-2.2 16,-2.4 16,2.4 12,2.2 6,1.9 0.4,1.5" fill="url(#sheath)" filter="url(#b1)"/>
<polygon points="0.8,-0.9 7,-1.0 12.5,-0.8 12.5,0.8 7,1.0 0.8,0.9" fill="url(#yel)" filter="url(#b1)"/>
<polygon points="0.6,-0.7 5,-0.75 9,-0.55 9,0.55 5,0.75 0.6,0.7" fill="url(#core)" filter="url(#b05)"/>
</g>
<g transform="rotate(213.75) translate(60.80,0) scale(-1,1)">
<polygon points="8,-1.9 14,-2.6 21,-3.4 21,3.4 14,2.6 8,1.9" fill="url(#tailB)" filter="url(#b1)"/>
<polygon points="0.4,-1.5 6,-1.9 12,-2.2 16,-2.4 16,2.4 12,2.2 6,1.9 0.4,1.5" fill="url(#sheath)" filter="url(#b1)"/>
<polygon points="0.8,-0.9 7,-1.0 12.5,-0.8 12.5,0.8 7,1.0 0.8,0.9" fill="url(#yel)" filter="url(#b1)"/>
<polygon points="0.6,-0.7 5,-0.75 9,-0.55 9,0.55 5,0.75 0.6,0.7" fill="url(#core)" filter="url(#b05)"/>
</g>
<g transform="rotate(236.25) translate(60.80,0) scale(-1,1)">
<polygon points="8,-1.9 14,-2.6 21,-3.4 21,3.4 14,2.6 8,1.9" fill="url(#tailB)" filter="url(#b1)"/>
<polygon points="0.4,-1.5 6,-1.9 12,-2.2 16,-2.4 16,2.4 12,2.2 6,1.9 0.4,1.5" fill="url(#sheath)" filter="url(#b1)"/>
<polygon points="0.8,-0.9 7,-1.0 12.5,-0.8 12.5,0.8 7,1.0 0.8,0.9" fill="url(#yel)" filter="url(#b1)"/>
<polygon points="0.6,-0.7 5,-0.75 9,-0.55 9,0.55 5,0.75 0.6,0.7" fill="url(#core)" filter="url(#b05)"/>
</g>
<g transform="rotate(258.75) translate(60.80,0) scale(-1,1)">
<polygon points="8,-1.9 14,-2.6 21,-3.4 21,3.4 14,2.6 8,1.9" fill="url(#tailB)" filter="url(#b1)"/>
<polygon points="0.4,-1.5 6,-1.9 12,-2.2 16,-2.4 16,2.4 12,2.2 6,1.9 0.4,1.5" fill="url(#sheath)" filter="url(#b1)"/>
<polygon points="0.8,-0.9 7,-1.0 12.5,-0.8 12.5,0.8 7,1.0 0.8,0.9" fill="url(#yel)" filter="url(#b1)"/>
<polygon points="0.6,-0.7 5,-0.75 9,-0.55 9,0.55 5,0.75 0.6,0.7" fill="url(#core)" filter="url(#b05)"/>
</g>
<g transform="rotate(281.25) translate(60.80,0) scale(-1,1)">
<polygon points="8,-1.9 14,-2.6 21,-3.4 21,3.4 14,2.6 8,1.9" fill="url(#tailB)" filter="url(#b1)"/>
<polygon points="0.4,-1.5 6,-1.9 12,-2.2 16,-2.4 16,2.4 12,2.2 6,1.9 0.4,1.5" fill="url(#sheath)" filter="url(#b1)"/>
<polygon points="0.8,-0.9 7,-1.0 12.5,-0.8 12.5,0.8 7,1.0 0.8,0.9" fill="url(#yel)" filter="url(#b1)"/>
<polygon points="0.6,-0.7 5,-0.75 9,-0.55 9,0.55 5,0.75 0.6,0.7" fill="url(#core)" filter="url(#b05)"/>
</g>
<g transform="rotate(303.75) translate(60.80,0) scale(-1,1)">
<polygon points="8,-1.9 14,-2.6 21,-3.4 21,3.4 14,2.6 8,1.9" fill="url(#tailB)" filter="url(#b1)"/>
<polygon points="0.4,-1.5 6,-1.9 12,-2.2 16,-2.4 16,2.4 12,2.2 6,1.9 0.4,1.5" fill="url(#sheath)" filter="url(#b1)"/>
<polygon points="0.8,-0.9 7,-1.0 12.5,-0.8 12.5,0.8 7,1.0 0.8,0.9" fill="url(#yel)" filter="url(#b1)"/>
<polygon points="0.6,-0.7 5,-0.75 9,-0.55 9,0.55 5,0.75 0.6,0.7" fill="url(#core)" filter="url(#b05)"/>
</g>
<g transform="rotate(326.25) translate(60.80,0) scale(-1,1)">
<polygon points="8,-1.9 14,-2.6 21,-3.4 21,3.4 14,2.6 8,1.9" fill="url(#tailB)" filter="url(#b1)"/>
<polygon points="0.4,-1.5 6,-1.9 12,-2.2 16,-2.4 16,2.4 12,2.2 6,1.9 0.4,1.5" fill="url(#sheath)" filter="url(#b1)"/>
<polygon points="0.8,-0.9 7,-1.0 12.5,-0.8 12.5,0.8 7,1.0 0.8,0.9" fill="url(#yel)" filter="url(#b1)"/>
<polygon points="0.6,-0.7 5,-0.75 9,-0.55 9,0.55 5,0.75 0.6,0.7" fill="url(#core)" filter="url(#b05)"/>
</g>
<g transform="rotate(348.75) translate(60.80,0) scale(-1,1)">
<polygon points="8,-1.9 14,-2.6 21,-3.4 21,3.4 14,2.6 8,1.9" fill="url(#tailB)" filter="url(#b1)"/>
<polygon points="0.4,-1.5 6,-1.9 12,-2.2 16,-2.4 16,2.4 12,2.2 6,1.9 0.4,1.5" fill="url(#sheath)" filter="url(#b1)"/>
<polygon points="0.8,-0.9 7,-1.0 12.5,-0.8 12.5,0.8 7,1.0 0.8,0.9" fill="url(#yel)" filter="url(#b1)"/>
<polygon points="0.6,-0.7 5,-0.75 9,-0.55 9,0.55 5,0.75 0.6,0.7" fill="url(#core)" filter="url(#b05)"/>
</g>
</g>
<text transform="translate(103.80,42.40) scale(1,1)" font-size="19" font-family="Liberation Serif, Noto Serif CJK SC, serif" fill="#151515" stroke="#151515" stroke-width="0.25" font-weight="600">流速</text>
<text transform="translate(141.90,42.40) scale(0.945,1)" font-size="19.9" font-family="Liberation Serif, Noto Serif CJK SC, serif" fill="#151515" stroke="#151515" stroke-width="0.25" >/(m·s<tspan font-size="12" dy="-6.6">−1</tspan><tspan dy="6.6">)</tspan></text>
<text transform="translate(142.00,66.00) scale(0.885,1)" font-size="19.2" font-family="Liberation Serif, Noto Serif CJK SC, serif" fill="#151515" stroke="#151515" stroke-width="0.25" >15.24</text>
<text transform="translate(142.00,89.79) scale(0.885,1)" font-size="19.2" font-family="Liberation Serif, Noto Serif CJK SC, serif" fill="#151515" stroke="#151515" stroke-width="0.25" >14.44</text>
<text transform="translate(142.00,115.38) scale(0.885,1)" font-size="19.2" font-family="Liberation Serif, Noto Serif CJK SC, serif" fill="#151515" stroke="#151515" stroke-width="0.25" >13.64</text>
<text transform="translate(142.00,139.97) scale(0.885,1)" font-size="19.2" font-family="Liberation Serif, Noto Serif CJK SC, serif" fill="#151515" stroke="#151515" stroke-width="0.25" >12.84</text>
<text transform="translate(142.00,164.56) scale(0.885,1)" font-size="19.2" font-family="Liberation Serif, Noto Serif CJK SC, serif" fill="#151515" stroke="#151515" stroke-width="0.25" >12.03</text>
<text transform="translate(142.00,189.15) scale(0.885,1)" font-size="19.2" font-family="Liberation Serif, Noto Serif CJK SC, serif" fill="#151515" stroke="#151515" stroke-width="0.25" >11.23</text>
<text transform="translate(142.00,213.74) scale(0.885,1)" font-size="19.2" font-family="Liberation Serif, Noto Serif CJK SC, serif" fill="#151515" stroke="#151515" stroke-width="0.25" >10.43</text>
<text transform="translate(142.00,238.33) scale(0.885,1)" font-size="19.2" font-family="Liberation Serif, Noto Serif CJK SC, serif" fill="#151515" stroke="#151515" stroke-width="0.25" >9.63</text>
<text transform="translate(142.00,262.92) scale(0.885,1)" font-size="19.2" font-family="Liberation Serif, Noto Serif CJK SC, serif" fill="#151515" stroke="#151515" stroke-width="0.25" >8.83</text>
<text transform="translate(142.00,288.31) scale(0.885,1)" font-size="19.2" font-family="Liberation Serif, Noto Serif CJK SC, serif" fill="#151515" stroke="#151515" stroke-width="0.25" >8.02</text>
<text transform="translate(142.00,312.09) scale(0.885,1)" font-size="19.2" font-family="Liberation Serif, Noto Serif CJK SC, serif" fill="#151515" stroke="#151515" stroke-width="0.25" >7.22</text>
<text transform="translate(142.00,336.68) scale(0.885,1)" font-size="19.2" font-family="Liberation Serif, Noto Serif CJK SC, serif" fill="#151515" stroke="#151515" stroke-width="0.25" >6.42</text>
<text transform="translate(142.00,361.27) scale(0.885,1)" font-size="19.2" font-family="Liberation Serif, Noto Serif CJK SC, serif" fill="#151515" stroke="#151515" stroke-width="0.25" >5.62</text>
<text transform="translate(142.00,385.86) scale(0.885,1)" font-size="19.2" font-family="Liberation Serif, Noto Serif CJK SC, serif" fill="#151515" stroke="#151515" stroke-width="0.25" >4.81</text>
<text transform="translate(142.00,410.45) scale(0.885,1)" font-size="19.2" font-family="Liberation Serif, Noto Serif CJK SC, serif" fill="#151515" stroke="#151515" stroke-width="0.25" >4.01</text>
<text transform="translate(142.00,435.04) scale(0.885,1)" font-size="19.2" font-family="Liberation Serif, Noto Serif CJK SC, serif" fill="#151515" stroke="#151515" stroke-width="0.25" >3.21</text>
<text transform="translate(142.00,459.63) scale(0.885,1)" font-size="19.2" font-family="Liberation Serif, Noto Serif CJK SC, serif" fill="#151515" stroke="#151515" stroke-width="0.25" >2.41</text>
<text transform="translate(142.00,484.22) scale(0.885,1)" font-size="19.2" font-family="Liberation Serif, Noto Serif CJK SC, serif" fill="#151515" stroke="#151515" stroke-width="0.25" >1.60</text>
<text transform="translate(142.00,508.81) scale(0.885,1)" font-size="19.2" font-family="Liberation Serif, Noto Serif CJK SC, serif" fill="#151515" stroke="#151515" stroke-width="0.25" >0.80</text>
<text transform="translate(142.90,534.00) scale(0.885,1)" font-size="19.2" font-family="Liberation Serif, Noto Serif CJK SC, serif" fill="#151515" stroke="#151515" stroke-width="0.25" >0</text>
<text transform="translate(327.00,172.60) scale(0.957,1)" font-size="19.9" font-family="Liberation Serif, Noto Serif CJK SC, serif" fill="#151515" stroke="#151515" stroke-width="0.25" >(a) 25%</text>
<text transform="translate(388.40,172.60) scale(1,1)" font-size="18.5" font-family="Liberation Serif, Noto Serif CJK SC, serif" fill="#151515" stroke="#151515" stroke-width="0.25" font-weight="600">开度</text>
<text transform="translate(327.00,363.70) scale(0.957,1)" font-size="19.9" font-family="Liberation Serif, Noto Serif CJK SC, serif" fill="#151515" stroke="#151515" stroke-width="0.25" >(b) 55%</text>
<text transform="translate(388.40,363.70) scale(1,1)" font-size="18.5" font-family="Liberation Serif, Noto Serif CJK SC, serif" fill="#151515" stroke="#151515" stroke-width="0.25" font-weight="600">开度</text>
<text transform="translate(327.00,545.60) scale(0.957,1)" font-size="19.9" font-family="Liberation Serif, Noto Serif CJK SC, serif" fill="#151515" stroke="#151515" stroke-width="0.25" >(c) 85%</text>
<text transform="translate(388.40,545.60) scale(1,1)" font-size="18.5" font-family="Liberation Serif, Noto Serif CJK SC, serif" fill="#151515" stroke="#151515" stroke-width="0.25" font-weight="600">开度</text>
</svg>
</body></html>
